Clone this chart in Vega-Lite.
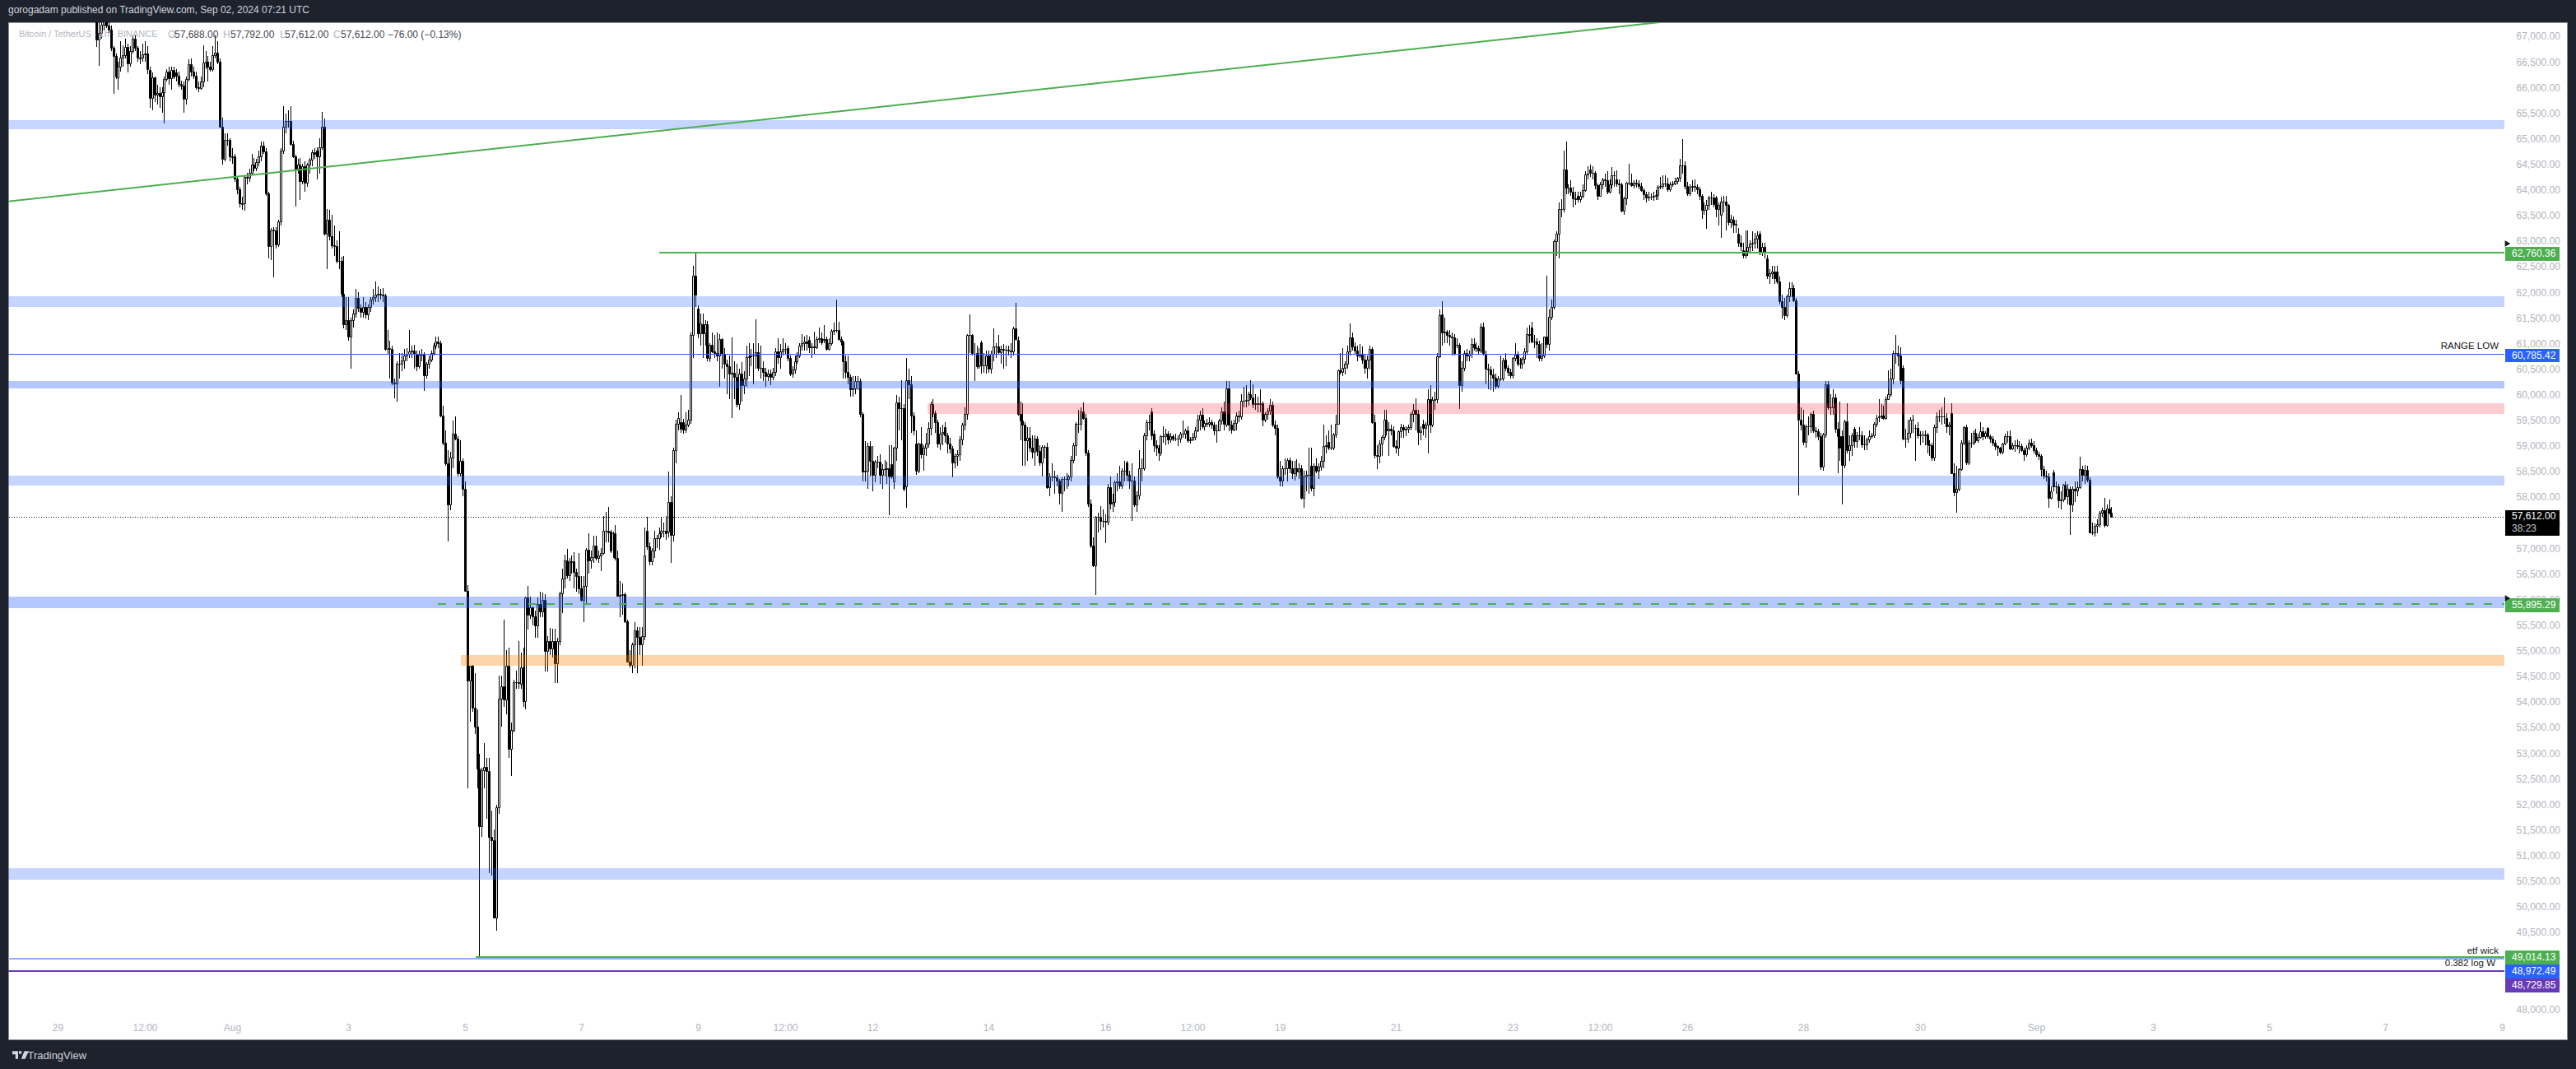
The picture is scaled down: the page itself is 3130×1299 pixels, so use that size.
{"$schema":"https://vega.github.io/schema/vega-lite/v6.json","autosize":"none","padding":{"left":10,"top":27,"right":11,"bottom":36},"width":3109,"height":1236,"background":"#1e222d","config":{"font":"Liberation Sans","view":{"fill":"#ffffff","stroke":"#8a8d96","strokeWidth":1}},"title":{"text":"gorogadam published on TradingView.com, Sep 02, 2024 07:21 UTC","anchor":"start","frame":"group","color":"#d1d4dc","fontSize":12,"fontWeight":"normal","offset":8},"datasets":{"candles":[
{"t":"2024-07-29T16:00Z","o":67500,"h":67800,"l":66780,"c":66920},{"t":"2024-07-29T17:00Z","o":66920,"h":67300,"l":66420,"c":67050},{"t":"2024-07-29T18:00Z","o":67050,"h":67350,"l":66950,"c":67220},{"t":"2024-07-29T19:00Z","o":67220,"h":67500,"l":67100,"c":67280},{"t":"2024-07-29T20:00Z","o":67280,"h":67400,"l":67150,"c":67200},{"t":"2024-07-29T21:00Z","o":67200,"h":67350,"l":67050,"c":67120},{"t":"2024-07-29T22:00Z","o":67120,"h":67200,"l":66700,"c":66760},{"t":"2024-07-29T23:00Z","o":66760,"h":66800,"l":65860,"c":66600},
{"t":"2024-07-30T00:00Z","o":66600,"h":66650,"l":66150,"c":66200},{"t":"2024-07-30T01:00Z","o":66190,"h":66500,"l":65950,"c":66400},{"t":"2024-07-30T02:00Z","o":66400,"h":66900,"l":66300,"c":66580},{"t":"2024-07-30T03:00Z","o":66580,"h":66820,"l":66400,"c":66620},{"t":"2024-07-30T04:00Z","o":66620,"h":66950,"l":66550,"c":66790},{"t":"2024-07-30T05:00Z","o":66790,"h":66850,"l":66280,"c":66460},{"t":"2024-07-30T06:00Z","o":66460,"h":66800,"l":66400,"c":66700},{"t":"2024-07-30T07:00Z","o":66700,"h":67000,"l":66650,"c":66940},{"t":"2024-07-30T08:00Z","o":66940,"h":67000,"l":66700,"c":66760},{"t":"2024-07-30T09:00Z","o":66760,"h":66800,"l":66500,"c":66580},{"t":"2024-07-30T10:00Z","o":66580,"h":66700,"l":66450,"c":66560},{"t":"2024-07-30T11:00Z","o":66570,"h":66850,"l":66500,"c":66640},{"t":"2024-07-30T12:00Z","o":66640,"h":66900,"l":66500,"c":66650},{"t":"2024-07-30T13:00Z","o":66650,"h":66800,"l":66250,"c":66350},{"t":"2024-07-30T14:00Z","o":66330,"h":66400,"l":65600,"c":65790},{"t":"2024-07-30T15:00Z","o":65790,"h":66280,"l":65550,"c":66190},{"t":"2024-07-30T16:00Z","o":66190,"h":66200,"l":65700,"c":65850},{"t":"2024-07-30T17:00Z","o":65850,"h":66050,"l":65650,"c":65880},{"t":"2024-07-30T18:00Z","o":65880,"h":66000,"l":65600,"c":65820},{"t":"2024-07-30T19:00Z","o":65820,"h":66000,"l":65500,"c":65900},{"t":"2024-07-30T20:00Z","o":65900,"h":66200,"l":65290,"c":66160},{"t":"2024-07-30T21:00Z","o":66160,"h":66350,"l":66100,"c":66300},{"t":"2024-07-30T22:00Z","o":66300,"h":66400,"l":66050,"c":66170},{"t":"2024-07-30T23:00Z","o":66170,"h":66400,"l":65950,"c":66330},
{"t":"2024-07-31T00:00Z","o":66330,"h":66400,"l":66150,"c":66200},{"t":"2024-07-31T01:00Z","o":66280,"h":66350,"l":66100,"c":66220},{"t":"2024-07-31T02:00Z","o":66220,"h":66300,"l":66000,"c":66060},{"t":"2024-07-31T03:00Z","o":66060,"h":66130,"l":65950,"c":66030},{"t":"2024-07-31T04:00Z","o":66030,"h":66100,"l":65500,"c":65770},{"t":"2024-07-31T05:00Z","o":65770,"h":66200,"l":65650,"c":66150},{"t":"2024-07-31T06:00Z","o":66150,"h":66540,"l":66100,"c":66450},{"t":"2024-07-31T07:00Z","o":66450,"h":66560,"l":66200,"c":66300},{"t":"2024-07-31T08:00Z","o":66300,"h":66400,"l":66150,"c":66220},{"t":"2024-07-31T09:00Z","o":66220,"h":66300,"l":65950,"c":66000},{"t":"2024-07-31T10:00Z","o":66000,"h":66100,"l":65900,"c":65980},{"t":"2024-07-31T11:00Z","o":65980,"h":66200,"l":65950,"c":66110},{"t":"2024-07-31T12:00Z","o":66110,"h":66810,"l":66000,"c":66480},{"t":"2024-07-31T13:00Z","o":66480,"h":66700,"l":66350,"c":66490},{"t":"2024-07-31T14:00Z","o":66490,"h":66600,"l":66100,"c":66400},{"t":"2024-07-31T15:00Z","o":66400,"h":66500,"l":66300,"c":66350},{"t":"2024-07-31T16:00Z","o":66350,"h":66800,"l":66300,"c":66620},{"t":"2024-07-31T17:00Z","o":66620,"h":67000,"l":66550,"c":66665},{"t":"2024-07-31T18:00Z","o":66665,"h":66900,"l":66450,"c":66500},{"t":"2024-07-31T19:00Z","o":66500,"h":66550,"l":65200,"c":65230},{"t":"2024-07-31T20:00Z","o":65230,"h":65400,"l":64480,"c":64600},{"t":"2024-07-31T21:00Z","o":64600,"h":65100,"l":64550,"c":64960},{"t":"2024-07-31T22:00Z","o":64960,"h":65100,"l":64850,"c":64970},{"t":"2024-07-31T23:00Z","o":64960,"h":65000,"l":64550,"c":64640},
{"t":"2024-08-01T00:00Z","o":64640,"h":64800,"l":64500,"c":64630},{"t":"2024-08-01T01:00Z","o":64640,"h":64700,"l":64150,"c":64210},{"t":"2024-08-01T02:00Z","o":64210,"h":64250,"l":63900,"c":64000},{"t":"2024-08-01T03:00Z","o":64000,"h":64050,"l":63650,"c":63730},{"t":"2024-08-01T04:00Z","o":63730,"h":63850,"l":63600,"c":63720},{"t":"2024-08-01T05:00Z","o":63730,"h":64280,"l":63580,"c":64250},{"t":"2024-08-01T06:00Z","o":64250,"h":64320,"l":64100,"c":64230},{"t":"2024-08-01T07:00Z","o":64230,"h":64400,"l":64150,"c":64330},{"t":"2024-08-01T08:00Z","o":64330,"h":64700,"l":64280,"c":64480},{"t":"2024-08-01T09:00Z","o":64480,"h":64620,"l":64350,"c":64420},{"t":"2024-08-01T10:00Z","o":64420,"h":64600,"l":64350,"c":64530},{"t":"2024-08-01T11:00Z","o":64530,"h":64750,"l":64450,"c":64640},{"t":"2024-08-01T12:00Z","o":64640,"h":64930,"l":64550,"c":64850},{"t":"2024-08-01T13:00Z","o":64850,"h":64930,"l":64700,"c":64740},{"t":"2024-08-01T14:00Z","o":64740,"h":64800,"l":63880,"c":63915},{"t":"2024-08-01T15:00Z","o":63915,"h":63950,"l":62650,"c":62900},{"t":"2024-08-01T16:00Z","o":62900,"h":63250,"l":62620,"c":63200},{"t":"2024-08-01T17:00Z","o":63200,"h":63260,"l":62280,"c":63220},{"t":"2024-08-01T18:00Z","o":63200,"h":63260,"l":62850,"c":62930},{"t":"2024-08-01T19:00Z","o":62930,"h":63400,"l":62880,"c":63370},{"t":"2024-08-01T20:00Z","o":63370,"h":64800,"l":63300,"c":64750},{"t":"2024-08-01T21:00Z","o":64750,"h":65630,"l":64700,"c":65230},{"t":"2024-08-01T22:00Z","o":65230,"h":65480,"l":65100,"c":65330},{"t":"2024-08-01T23:00Z","o":65330,"h":65550,"l":65200,"c":65330},
{"t":"2024-08-02T00:00Z","o":65330,"h":65630,"l":64850,"c":64880},{"t":"2024-08-02T01:00Z","o":64880,"h":64950,"l":64620,"c":64640},{"t":"2024-08-02T02:00Z","o":64640,"h":64680,"l":63660,"c":64400},{"t":"2024-08-02T03:00Z","o":64400,"h":64600,"l":64300,"c":64480},{"t":"2024-08-02T04:00Z","o":64480,"h":64620,"l":63800,"c":64170},{"t":"2024-08-02T05:00Z","o":64170,"h":64500,"l":64100,"c":64450},{"t":"2024-08-02T06:00Z","o":64450,"h":64550,"l":63950,"c":64130},{"t":"2024-08-02T07:00Z","o":64130,"h":64520,"l":64050,"c":64480},{"t":"2024-08-02T08:00Z","o":64480,"h":64620,"l":64300,"c":64580},{"t":"2024-08-02T09:00Z","o":64580,"h":64770,"l":64450,"c":64720},{"t":"2024-08-02T10:00Z","o":64720,"h":64800,"l":64600,"c":64700},{"t":"2024-08-02T11:00Z","o":64760,"h":64830,"l":64200,"c":64640},{"t":"2024-08-02T12:00Z","o":64640,"h":65000,"l":64300,"c":64830},{"t":"2024-08-02T13:00Z","o":64830,"h":65520,"l":64780,"c":65230},{"t":"2024-08-02T14:00Z","o":65230,"h":65380,"l":63100,"c":63140},{"t":"2024-08-02T15:00Z","o":63140,"h":63620,"l":62440,"c":63400},{"t":"2024-08-02T16:00Z","o":63400,"h":63600,"l":63000,"c":63080},{"t":"2024-08-02T17:00Z","o":63080,"h":63500,"l":62850,"c":62910},{"t":"2024-08-02T18:00Z","o":62910,"h":63300,"l":62700,"c":62900},{"t":"2024-08-02T19:00Z","o":62900,"h":63000,"l":62550,"c":62600},{"t":"2024-08-02T20:00Z","o":62600,"h":63180,"l":62450,"c":62600},{"t":"2024-08-02T21:00Z","o":62600,"h":62680,"l":61900,"c":61960},{"t":"2024-08-02T22:00Z","o":61960,"h":62700,"l":61290,"c":61370},{"t":"2024-08-02T23:00Z","o":61370,"h":61900,"l":61250,"c":61440},
{"t":"2024-08-03T00:00Z","o":61440,"h":61900,"l":61050,"c":61130},{"t":"2024-08-03T01:00Z","o":61130,"h":61500,"l":60500,"c":61450},{"t":"2024-08-03T02:00Z","o":61450,"h":61650,"l":61300,"c":61570},{"t":"2024-08-03T03:00Z","o":61570,"h":62050,"l":61500,"c":61880},{"t":"2024-08-03T04:00Z","o":61880,"h":62000,"l":61600,"c":61680},{"t":"2024-08-03T05:00Z","o":61680,"h":61750,"l":61500,"c":61600},{"t":"2024-08-03T06:00Z","o":61600,"h":61900,"l":61500,"c":61700},{"t":"2024-08-03T07:00Z","o":61700,"h":61800,"l":61480,"c":61560},{"t":"2024-08-03T08:00Z","o":61560,"h":61750,"l":61450,"c":61700},{"t":"2024-08-03T09:00Z","o":61700,"h":61900,"l":61600,"c":61850},{"t":"2024-08-03T10:00Z","o":61850,"h":62050,"l":61750,"c":61900},{"t":"2024-08-03T11:00Z","o":61900,"h":62200,"l":61800,"c":61950},{"t":"2024-08-03T12:00Z","o":61950,"h":62100,"l":61800,"c":61960},{"t":"2024-08-03T13:00Z","o":61960,"h":62050,"l":61850,"c":61950},{"t":"2024-08-03T14:00Z","o":61950,"h":62070,"l":61800,"c":61930},{"t":"2024-08-03T15:00Z","o":61930,"h":61960,"l":60850,"c":60880},{"t":"2024-08-03T16:00Z","o":60880,"h":61250,"l":60780,"c":60890},{"t":"2024-08-03T17:00Z","o":60890,"h":61050,"l":60300,"c":60900},{"t":"2024-08-03T18:00Z","o":60880,"h":60950,"l":60180,"c":60220},{"t":"2024-08-03T19:00Z","o":60220,"h":60300,"l":59920,"c":60210},{"t":"2024-08-03T20:00Z","o":60210,"h":60650,"l":59850,"c":60600},{"t":"2024-08-03T21:00Z","o":60600,"h":60800,"l":60300,"c":60590},{"t":"2024-08-03T22:00Z","o":60590,"h":60800,"l":60450,"c":60660},{"t":"2024-08-03T23:00Z","o":60660,"h":60880,"l":60500,"c":60750},
{"t":"2024-08-04T00:00Z","o":60750,"h":60900,"l":60650,"c":60780},{"t":"2024-08-04T01:00Z","o":60780,"h":61250,"l":60700,"c":60830},{"t":"2024-08-04T02:00Z","o":60830,"h":60950,"l":60700,"c":60860},{"t":"2024-08-04T03:00Z","o":60860,"h":60960,"l":60500,"c":60780},{"t":"2024-08-04T04:00Z","o":60780,"h":60850,"l":60450,"c":60540},{"t":"2024-08-04T05:00Z","o":60540,"h":60850,"l":60500,"c":60770},{"t":"2024-08-04T06:00Z","o":60770,"h":60880,"l":60650,"c":60780},{"t":"2024-08-04T07:00Z","o":60780,"h":60820,"l":60060,"c":60370},{"t":"2024-08-04T08:00Z","o":60370,"h":60620,"l":60300,"c":60590},{"t":"2024-08-04T09:00Z","o":60590,"h":60750,"l":60500,"c":60680},{"t":"2024-08-04T10:00Z","o":60680,"h":60850,"l":60620,"c":60800},{"t":"2024-08-04T11:00Z","o":60800,"h":61000,"l":60750,"c":60950},{"t":"2024-08-04T12:00Z","o":60950,"h":61130,"l":60880,"c":61030},{"t":"2024-08-04T13:00Z","o":61030,"h":61130,"l":60900,"c":61000},{"t":"2024-08-04T14:00Z","o":61000,"h":61050,"l":59550,"c":59575},{"t":"2024-08-04T15:00Z","o":59575,"h":59780,"l":59000,"c":59060},{"t":"2024-08-04T16:00Z","o":59060,"h":59300,"l":58600,"c":58650},{"t":"2024-08-04T17:00Z","o":58650,"h":58900,"l":57130,"c":57850},{"t":"2024-08-04T18:00Z","o":57850,"h":58880,"l":57730,"c":58760},{"t":"2024-08-04T19:00Z","o":58760,"h":59480,"l":58550,"c":59230},{"t":"2024-08-04T20:00Z","o":59230,"h":59570,"l":59100,"c":59130},{"t":"2024-08-04T21:00Z","o":59130,"h":59180,"l":58400,"c":58450},{"t":"2024-08-04T22:00Z","o":58450,"h":59100,"l":58400,"c":58700},{"t":"2024-08-04T23:00Z","o":58700,"h":58750,"l":58000,"c":58160},
{"t":"2024-08-05T00:00Z","o":58160,"h":58290,"l":56140,"c":56160},{"t":"2024-08-05T01:00Z","o":56160,"h":56270,"l":52300,"c":54410},{"t":"2024-08-05T02:00Z","o":54410,"h":54700,"l":53600,"c":54700},{"t":"2024-08-05T03:00Z","o":54700,"h":54720,"l":53800,"c":53870},{"t":"2024-08-05T04:00Z","o":53870,"h":54560,"l":53370,"c":53510},{"t":"2024-08-05T05:00Z","o":53510,"h":53850,"l":52300,"c":52690},{"t":"2024-08-05T06:00Z","o":52690,"h":52980,"l":49000,"c":51560},{"t":"2024-08-05T07:00Z","o":51560,"h":52700,"l":51350,"c":52660},{"t":"2024-08-05T08:00Z","o":52660,"h":53190,"l":52300,"c":52720},{"t":"2024-08-05T09:00Z","o":52720,"h":52900,"l":51700,"c":52640},{"t":"2024-08-05T10:00Z","o":52640,"h":52900,"l":50650,"c":51360},{"t":"2024-08-05T11:00Z","o":51360,"h":51860,"l":50600,"c":51290},{"t":"2024-08-05T12:00Z","o":51290,"h":51500,"l":49760,"c":49780},{"t":"2024-08-05T13:00Z","o":49780,"h":51980,"l":49525,"c":51925},{"t":"2024-08-05T14:00Z","o":51925,"h":54500,"l":51800,"c":54048},{"t":"2024-08-05T15:00Z","o":54048,"h":54500,"l":53500,"c":54300},{"t":"2024-08-05T16:00Z","o":54300,"h":55595,"l":53900,"c":54030},{"t":"2024-08-05T17:00Z","o":54030,"h":55000,"l":53750,"c":54690},{"t":"2024-08-05T18:00Z","o":54690,"h":55050,"l":52900,"c":53070},{"t":"2024-08-05T19:00Z","o":53070,"h":53580,"l":52540,"c":53450},{"t":"2024-08-05T20:00Z","o":53450,"h":54420,"l":53400,"c":54380},{"t":"2024-08-05T21:00Z","o":54380,"h":54600,"l":54250,"c":54380},{"t":"2024-08-05T22:00Z","o":54380,"h":55180,"l":54250,"c":54360},{"t":"2024-08-05T23:00Z","o":54350,"h":54950,"l":54250,"c":54670},
{"t":"2024-08-06T00:00Z","o":54670,"h":55050,"l":53900,"c":54000},{"t":"2024-08-06T01:00Z","o":54000,"h":56050,"l":53850,"c":56030},{"t":"2024-08-06T02:00Z","o":56030,"h":56250,"l":55400,"c":55690},{"t":"2024-08-06T03:00Z","o":55690,"h":56050,"l":55620,"c":55830},{"t":"2024-08-06T04:00Z","o":55830,"h":55850,"l":55480,"c":55660},{"t":"2024-08-06T05:00Z","o":55660,"h":55780,"l":55250,"c":55480},{"t":"2024-08-06T06:00Z","o":55480,"h":56030,"l":55250,"c":55900},{"t":"2024-08-06T07:00Z","o":55900,"h":56150,"l":55650,"c":55760},{"t":"2024-08-06T08:00Z","o":55760,"h":56120,"l":55650,"c":55990},{"t":"2024-08-06T09:00Z","o":55990,"h":56100,"l":54580,"c":54980},{"t":"2024-08-06T10:00Z","o":54980,"h":55280,"l":54580,"c":55180},{"t":"2024-08-06T11:00Z","o":55180,"h":55430,"l":54900,"c":55030},{"t":"2024-08-06T12:00Z","o":55030,"h":55420,"l":54850,"c":55180},{"t":"2024-08-06T13:00Z","o":55180,"h":55420,"l":54360,"c":54740},{"t":"2024-08-06T14:00Z","o":54740,"h":55250,"l":54360,"c":55180},{"t":"2024-08-06T15:00Z","o":55180,"h":56150,"l":55100,"c":56115},{"t":"2024-08-06T16:00Z","o":56115,"h":56600,"l":55730,"c":56400},{"t":"2024-08-06T17:00Z","o":56400,"h":56860,"l":56200,"c":56760},{"t":"2024-08-06T18:00Z","o":56760,"h":56980,"l":56400,"c":56470},{"t":"2024-08-06T19:00Z","o":56470,"h":56800,"l":56350,"c":56720},{"t":"2024-08-06T20:00Z","o":56720,"h":56850,"l":56500,"c":56730},{"t":"2024-08-06T21:00Z","o":56740,"h":56920,"l":56200,"c":56530},{"t":"2024-08-06T22:00Z","o":56530,"h":56600,"l":56150,"c":56450},{"t":"2024-08-06T23:00Z","o":56450,"h":56900,"l":56100,"c":56200},
{"t":"2024-08-07T00:00Z","o":56200,"h":56450,"l":55950,"c":55990},{"t":"2024-08-07T01:00Z","o":55990,"h":56450,"l":55550,"c":56250},{"t":"2024-08-07T02:00Z","o":56250,"h":57000,"l":55900,"c":56960},{"t":"2024-08-07T03:00Z","o":56960,"h":57280,"l":56500,"c":56750},{"t":"2024-08-07T04:00Z","o":56750,"h":56950,"l":56600,"c":56820},{"t":"2024-08-07T05:00Z","o":56820,"h":57230,"l":56700,"c":57050},{"t":"2024-08-07T06:00Z","o":57050,"h":57230,"l":56750,"c":56800},{"t":"2024-08-07T07:00Z","o":56800,"h":56950,"l":56700,"c":56850},{"t":"2024-08-07T08:00Z","o":56850,"h":57000,"l":56550,"c":56900},{"t":"2024-08-07T09:00Z","o":56900,"h":57620,"l":56860,"c":57330},{"t":"2024-08-07T10:00Z","o":57330,"h":57700,"l":57100,"c":57330},{"t":"2024-08-07T11:00Z","o":57330,"h":57800,"l":57100,"c":57300},{"t":"2024-08-07T12:00Z","o":57310,"h":57350,"l":56900,"c":56940},{"t":"2024-08-07T13:00Z","o":57290,"h":57320,"l":56800,"c":57290},{"t":"2024-08-07T14:00Z","o":57280,"h":57450,"l":56750,"c":56810},{"t":"2024-08-07T15:00Z","o":56810,"h":56950,"l":56050,"c":56070},{"t":"2024-08-07T16:00Z","o":56070,"h":56350,"l":55650,"c":56080},{"t":"2024-08-07T17:00Z","o":56080,"h":56300,"l":55700,"c":56090},{"t":"2024-08-07T18:00Z","o":56090,"h":56120,"l":55540,"c":55560},{"t":"2024-08-07T19:00Z","o":55560,"h":55600,"l":54760,"c":54780},{"t":"2024-08-07T20:00Z","o":54780,"h":55000,"l":54660,"c":54720},{"t":"2024-08-07T21:00Z","o":54720,"h":55150,"l":54560,"c":55120},{"t":"2024-08-07T22:00Z","o":55120,"h":55550,"l":54650,"c":55390},{"t":"2024-08-07T23:00Z","o":55390,"h":55450,"l":54560,"c":55260},
{"t":"2024-08-08T00:00Z","o":55260,"h":55450,"l":54900,"c":55110},{"t":"2024-08-08T01:00Z","o":55110,"h":55450,"l":54700,"c":55280},{"t":"2024-08-08T02:00Z","o":55280,"h":57390,"l":55200,"c":56850},{"t":"2024-08-08T03:00Z","o":57340,"h":57600,"l":56960,"c":57030},{"t":"2024-08-08T04:00Z","o":57030,"h":57100,"l":56660,"c":56740},{"t":"2024-08-08T05:00Z","o":56740,"h":57000,"l":56650,"c":56950},{"t":"2024-08-08T06:00Z","o":56950,"h":57330,"l":56800,"c":57180},{"t":"2024-08-08T07:00Z","o":57180,"h":57250,"l":57000,"c":57180},{"t":"2024-08-08T08:00Z","o":57180,"h":57400,"l":56960,"c":57280},{"t":"2024-08-08T09:00Z","o":57280,"h":57600,"l":57200,"c":57330},{"t":"2024-08-08T10:00Z","o":57330,"h":57500,"l":57200,"c":57340},{"t":"2024-08-08T11:00Z","o":57340,"h":57620,"l":57150,"c":57290},{"t":"2024-08-08T12:00Z","o":57310,"h":58485,"l":57200,"c":57895},{"t":"2024-08-08T13:00Z","o":57895,"h":58000,"l":56700,"c":57250},{"t":"2024-08-08T14:00Z","o":57250,"h":58960,"l":57120,"c":58900},{"t":"2024-08-08T15:00Z","o":58900,"h":59500,"l":58650,"c":59420},{"t":"2024-08-08T16:00Z","o":59420,"h":59650,"l":59300,"c":59540},{"t":"2024-08-08T17:00Z","o":59450,"h":59980,"l":59250,"c":59330},{"t":"2024-08-08T18:00Z","o":59450,"h":59520,"l":59230,"c":59315},{"t":"2024-08-08T19:00Z","o":59315,"h":59650,"l":59250,"c":59400},{"t":"2024-08-08T20:00Z","o":59400,"h":59700,"l":59360,"c":59500},{"t":"2024-08-08T21:00Z","o":59500,"h":61200,"l":59420,"c":61160},{"t":"2024-08-08T22:00Z","o":61160,"h":62500,"l":60700,"c":62315},{"t":"2024-08-08T23:00Z","o":62315,"h":62770,"l":61700,"c":61950},
{"t":"2024-08-09T00:00Z","o":61670,"h":61730,"l":61100,"c":61190},{"t":"2024-08-09T01:00Z","o":61190,"h":61580,"l":60950,"c":61380},{"t":"2024-08-09T02:00Z","o":61370,"h":61570,"l":60700,"c":61190},{"t":"2024-08-09T03:00Z","o":61190,"h":61450,"l":60950,"c":61360},{"t":"2024-08-09T04:00Z","o":61360,"h":61430,"l":60640,"c":60710},{"t":"2024-08-09T05:00Z","o":60710,"h":61000,"l":60620,"c":60960},{"t":"2024-08-09T06:00Z","o":60960,"h":61200,"l":60800,"c":60840},{"t":"2024-08-09T07:00Z","o":60840,"h":61150,"l":60700,"c":60810},{"t":"2024-08-09T08:00Z","o":60810,"h":61200,"l":60650,"c":60760},{"t":"2024-08-09T09:00Z","o":60760,"h":61170,"l":60150,"c":61070},{"t":"2024-08-09T10:00Z","o":61070,"h":61100,"l":60500,"c":60780},{"t":"2024-08-09T11:00Z","o":60780,"h":60900,"l":60300,"c":60590},{"t":"2024-08-09T12:00Z","o":60590,"h":60680,"l":60000,"c":60540},{"t":"2024-08-09T13:00Z","o":60540,"h":60750,"l":59900,"c":60410},{"t":"2024-08-09T14:00Z","o":60410,"h":61110,"l":59530,"c":60420},{"t":"2024-08-09T15:00Z","o":60420,"h":60650,"l":59900,"c":60330},{"t":"2024-08-09T16:00Z","o":60330,"h":60600,"l":59750,"c":59800},{"t":"2024-08-09T17:00Z","o":59800,"h":60500,"l":59700,"c":60410},{"t":"2024-08-09T18:00Z","o":60410,"h":60620,"l":59850,"c":60170},{"t":"2024-08-09T19:00Z","o":60170,"h":60450,"l":60000,"c":60300},{"t":"2024-08-09T20:00Z","o":60300,"h":60950,"l":60150,"c":60730},{"t":"2024-08-09T21:00Z","o":60730,"h":61000,"l":60350,"c":60740},{"t":"2024-08-09T22:00Z","o":60740,"h":60880,"l":60550,"c":60750},{"t":"2024-08-09T23:00Z","o":60750,"h":61000,"l":60200,"c":60760},
{"t":"2024-08-10T00:00Z","o":60760,"h":61470,"l":60500,"c":60820},{"t":"2024-08-10T01:00Z","o":60820,"h":61000,"l":60450,"c":60520},{"t":"2024-08-10T02:00Z","o":60520,"h":60950,"l":60300,"c":60510},{"t":"2024-08-10T03:00Z","o":60510,"h":60650,"l":60250,"c":60440},{"t":"2024-08-10T04:00Z","o":60440,"h":60520,"l":60150,"c":60360},{"t":"2024-08-10T05:00Z","o":60360,"h":60480,"l":60250,"c":60400},{"t":"2024-08-10T06:00Z","o":60400,"h":60480,"l":60180,"c":60330},{"t":"2024-08-10T07:00Z","o":60330,"h":60520,"l":60280,"c":60440},{"t":"2024-08-10T08:00Z","o":60440,"h":60900,"l":60350,"c":60840},{"t":"2024-08-10T09:00Z","o":60840,"h":61100,"l":60600,"c":60720},{"t":"2024-08-10T10:00Z","o":60720,"h":60980,"l":60500,"c":60830},{"t":"2024-08-10T11:00Z","o":60830,"h":61100,"l":60750,"c":60890},{"t":"2024-08-10T12:00Z","o":60890,"h":61000,"l":60780,"c":60880},{"t":"2024-08-10T13:00Z","o":60900,"h":60950,"l":60640,"c":60710},{"t":"2024-08-10T14:00Z","o":60710,"h":60750,"l":60350,"c":60410},{"t":"2024-08-10T15:00Z","o":60410,"h":60550,"l":60320,"c":60490},{"t":"2024-08-10T16:00Z","o":60490,"h":60750,"l":60400,"c":60650},{"t":"2024-08-10T17:00Z","o":60650,"h":60820,"l":60600,"c":60760},{"t":"2024-08-10T18:00Z","o":60760,"h":61000,"l":60700,"c":60950},{"t":"2024-08-10T19:00Z","o":60950,"h":61180,"l":60850,"c":61000},{"t":"2024-08-10T20:00Z","o":61000,"h":61120,"l":60850,"c":61030},{"t":"2024-08-10T21:00Z","o":61030,"h":61150,"l":60850,"c":60990},{"t":"2024-08-10T22:00Z","o":61060,"h":61130,"l":60800,"c":60910},{"t":"2024-08-10T23:00Z","o":60910,"h":61000,"l":60700,"c":60930},
{"t":"2024-08-11T00:00Z","o":60930,"h":61220,"l":60770,"c":60910},{"t":"2024-08-11T01:00Z","o":60910,"h":61130,"l":60880,"c":61080},{"t":"2024-08-11T02:00Z","o":61080,"h":61300,"l":61000,"c":61100},{"t":"2024-08-11T03:00Z","o":61100,"h":61200,"l":60960,"c":61010},{"t":"2024-08-11T04:00Z","o":61080,"h":61350,"l":61000,"c":61060},{"t":"2024-08-11T05:00Z","o":61080,"h":61120,"l":60860,"c":60880},{"t":"2024-08-11T06:00Z","o":60880,"h":61100,"l":60850,"c":60990},{"t":"2024-08-11T07:00Z","o":60990,"h":61270,"l":60950,"c":61240},{"t":"2024-08-11T08:00Z","o":61240,"h":61400,"l":61150,"c":61250},{"t":"2024-08-11T09:00Z","o":61250,"h":61850,"l":61200,"c":61260},{"t":"2024-08-11T10:00Z","o":61260,"h":61420,"l":61050,"c":61080},{"t":"2024-08-11T11:00Z","o":61080,"h":61120,"l":60950,"c":61030},{"t":"2024-08-11T12:00Z","o":61030,"h":61050,"l":60300,"c":60650},{"t":"2024-08-11T13:00Z","o":60650,"h":60750,"l":60300,"c":60440},{"t":"2024-08-11T14:00Z","o":60440,"h":60750,"l":60200,"c":60330},{"t":"2024-08-11T15:00Z","o":60330,"h":60380,"l":59950,"c":60100},{"t":"2024-08-11T16:00Z","o":60100,"h":60350,"l":59950,"c":60120},{"t":"2024-08-11T17:00Z","o":60120,"h":60350,"l":60000,"c":60250},{"t":"2024-08-11T18:00Z","o":60250,"h":60350,"l":60080,"c":60260},{"t":"2024-08-11T19:00Z","o":60260,"h":60300,"l":59550,"c":59610},{"t":"2024-08-11T20:00Z","o":59610,"h":59650,"l":58300,"c":58485},{"t":"2024-08-11T21:00Z","o":58485,"h":59080,"l":58300,"c":58500},{"t":"2024-08-11T22:00Z","o":58500,"h":59050,"l":58150,"c":58990},{"t":"2024-08-11T23:00Z","o":58990,"h":59080,"l":58400,"c":58700},
{"t":"2024-08-12T00:00Z","o":58700,"h":58980,"l":58110,"c":58430},{"t":"2024-08-12T01:00Z","o":58430,"h":58720,"l":58280,"c":58690},{"t":"2024-08-12T02:00Z","o":58690,"h":58800,"l":58550,"c":58680},{"t":"2024-08-12T03:00Z","o":58680,"h":58820,"l":58250,"c":58420},{"t":"2024-08-12T04:00Z","o":58420,"h":58640,"l":58150,"c":58540},{"t":"2024-08-12T05:00Z","o":58540,"h":58720,"l":58400,"c":58540},{"t":"2024-08-12T06:00Z","o":58530,"h":58680,"l":58250,"c":58550},{"t":"2024-08-12T07:00Z","o":58550,"h":59000,"l":57640,"c":58390},{"t":"2024-08-12T08:00Z","o":58640,"h":59000,"l":58350,"c":58390},{"t":"2024-08-12T09:00Z","o":58300,"h":58970,"l":58150,"c":58950},{"t":"2024-08-12T10:00Z","o":58950,"h":59980,"l":58700,"c":59840},{"t":"2024-08-12T11:00Z","o":59840,"h":59950,"l":59300,"c":59720},{"t":"2024-08-12T12:00Z","o":59720,"h":60280,"l":59100,"c":59720},{"t":"2024-08-12T13:00Z","o":59720,"h":59800,"l":58100,"c":58150},{"t":"2024-08-12T14:00Z","o":58200,"h":60710,"l":57790,"c":60280},{"t":"2024-08-12T15:00Z","o":60280,"h":60500,"l":59900,"c":60200},{"t":"2024-08-12T16:00Z","o":60200,"h":60350,"l":59250,"c":59580},{"t":"2024-08-12T17:00Z","o":59580,"h":59650,"l":59200,"c":59290},{"t":"2024-08-12T18:00Z","o":59030,"h":59300,"l":58420,"c":58510},{"t":"2024-08-12T19:00Z","o":58510,"h":59050,"l":58450,"c":59030},{"t":"2024-08-12T20:00Z","o":59030,"h":59350,"l":58750,"c":58820},{"t":"2024-08-12T21:00Z","o":58820,"h":59000,"l":58500,"c":58950},{"t":"2024-08-12T22:00Z","o":58950,"h":59250,"l":58800,"c":59030},{"t":"2024-08-12T23:00Z","o":59030,"h":59450,"l":58950,"c":59340},
{"t":"2024-08-13T00:00Z","o":59340,"h":59850,"l":59200,"c":59800},{"t":"2024-08-13T01:00Z","o":59800,"h":59900,"l":59550,"c":59630},{"t":"2024-08-13T02:00Z","o":59630,"h":59680,"l":59250,"c":59460},{"t":"2024-08-13T03:00Z","o":59460,"h":59500,"l":58950,"c":59030},{"t":"2024-08-13T04:00Z","o":59030,"h":59350,"l":58900,"c":59230},{"t":"2024-08-13T05:00Z","o":59230,"h":59400,"l":59000,"c":59260},{"t":"2024-08-13T06:00Z","o":59350,"h":59450,"l":59050,"c":59190},{"t":"2024-08-13T07:00Z","o":59190,"h":59250,"l":58850,"c":59040},{"t":"2024-08-13T08:00Z","o":59040,"h":59150,"l":58850,"c":58940},{"t":"2024-08-13T09:00Z","o":58940,"h":58980,"l":58378,"c":58660},{"t":"2024-08-13T10:00Z","o":58660,"h":58850,"l":58550,"c":58800},{"t":"2024-08-13T11:00Z","o":58800,"h":58900,"l":58600,"c":58820},{"t":"2024-08-13T12:00Z","o":58820,"h":59180,"l":58700,"c":59120},{"t":"2024-08-13T13:00Z","o":59120,"h":59430,"l":59000,"c":59410},{"t":"2024-08-13T14:00Z","o":59410,"h":59750,"l":59300,"c":59610},{"t":"2024-08-13T15:00Z","o":59610,"h":61180,"l":59500,"c":61150},{"t":"2024-08-13T16:00Z","o":61150,"h":61555,"l":60800,"c":61150},{"t":"2024-08-13T17:00Z","o":61150,"h":61180,"l":60750,"c":60790},{"t":"2024-08-13T18:00Z","o":60790,"h":61000,"l":60250,"c":60790},{"t":"2024-08-13T19:00Z","o":60800,"h":60950,"l":60500,"c":60550},{"t":"2024-08-13T20:00Z","o":60550,"h":60900,"l":60500,"c":60560},{"t":"2024-08-13T21:00Z","o":61010,"h":61050,"l":60400,"c":60570},{"t":"2024-08-13T22:00Z","o":60570,"h":60800,"l":60420,"c":60570},{"t":"2024-08-13T23:00Z","o":60570,"h":60850,"l":60400,"c":60760},
{"t":"2024-08-14T00:00Z","o":60760,"h":60850,"l":60420,"c":60500},{"t":"2024-08-14T01:00Z","o":60500,"h":60850,"l":60400,"c":60780},{"t":"2024-08-14T02:00Z","o":60780,"h":61280,"l":60650,"c":60940},{"t":"2024-08-14T03:00Z","o":60940,"h":61000,"l":60700,"c":60940},{"t":"2024-08-14T04:00Z","o":60940,"h":61150,"l":60780,"c":60820},{"t":"2024-08-14T05:00Z","o":60820,"h":60950,"l":60600,"c":60890},{"t":"2024-08-14T06:00Z","o":60890,"h":60980,"l":60500,"c":60870},{"t":"2024-08-14T07:00Z","o":60870,"h":60950,"l":60550,"c":60870},{"t":"2024-08-14T08:00Z","o":60870,"h":60950,"l":60750,"c":60860},{"t":"2024-08-14T09:00Z","o":60860,"h":61000,"l":60700,"c":60840},{"t":"2024-08-14T10:00Z","o":60840,"h":61320,"l":60750,"c":61290},{"t":"2024-08-14T11:00Z","o":61290,"h":61780,"l":61050,"c":61080},{"t":"2024-08-14T12:00Z","o":61060,"h":61120,"l":59580,"c":59610},{"t":"2024-08-14T13:00Z","o":59610,"h":59850,"l":59100,"c":59480},{"t":"2024-08-14T14:00Z","o":59480,"h":59820,"l":58600,"c":59410},{"t":"2024-08-14T15:00Z","o":59410,"h":59450,"l":58600,"c":59100},{"t":"2024-08-14T16:00Z","o":59100,"h":59350,"l":58700,"c":59150},{"t":"2024-08-14T17:00Z","o":59150,"h":59350,"l":58880,"c":58960},{"t":"2024-08-14T18:00Z","o":58960,"h":59200,"l":58750,"c":58870},{"t":"2024-08-14T19:00Z","o":58870,"h":59200,"l":58600,"c":59130},{"t":"2024-08-14T20:00Z","o":59130,"h":59180,"l":58800,"c":58890},{"t":"2024-08-14T21:00Z","o":58890,"h":59000,"l":58600,"c":58660},{"t":"2024-08-14T22:00Z","o":58660,"h":59000,"l":58400,"c":58970},{"t":"2024-08-14T23:00Z","o":58970,"h":59000,"l":58750,"c":58970},
{"t":"2024-08-15T00:00Z","o":58970,"h":59050,"l":58150,"c":58190},{"t":"2024-08-15T01:00Z","o":58190,"h":58450,"l":58000,"c":58400},{"t":"2024-08-15T02:00Z","o":58400,"h":58650,"l":58300,"c":58400},{"t":"2024-08-15T03:00Z","o":58400,"h":58500,"l":58050,"c":58380},{"t":"2024-08-15T04:00Z","o":58380,"h":58420,"l":58200,"c":58310},{"t":"2024-08-15T05:00Z","o":58310,"h":58350,"l":57850,"c":58070},{"t":"2024-08-15T06:00Z","o":58070,"h":58380,"l":57710,"c":58350},{"t":"2024-08-15T07:00Z","o":58350,"h":58400,"l":58100,"c":58350},{"t":"2024-08-15T08:00Z","o":58350,"h":58450,"l":58150,"c":58350},{"t":"2024-08-15T09:00Z","o":58350,"h":58430,"l":58200,"c":58400},{"t":"2024-08-15T10:00Z","o":58400,"h":58800,"l":58300,"c":58720},{"t":"2024-08-15T11:00Z","o":58720,"h":59050,"l":58650,"c":59000},{"t":"2024-08-15T12:00Z","o":59000,"h":59450,"l":58800,"c":59420},{"t":"2024-08-15T13:00Z","o":59420,"h":59700,"l":59250,"c":59420},{"t":"2024-08-15T14:00Z","o":59420,"h":59750,"l":59300,"c":59660},{"t":"2024-08-15T15:00Z","o":59670,"h":59835,"l":59500,"c":59530},{"t":"2024-08-15T16:00Z","o":59530,"h":59620,"l":58800,"c":58860},{"t":"2024-08-15T17:00Z","o":58860,"h":58900,"l":57800,"c":57870},{"t":"2024-08-15T18:00Z","o":57870,"h":57950,"l":57000,"c":57040},{"t":"2024-08-15T19:00Z","o":57040,"h":57200,"l":56620,"c":56650},{"t":"2024-08-15T20:00Z","o":56650,"h":57620,"l":56080,"c":57600},{"t":"2024-08-15T21:00Z","o":57600,"h":57680,"l":57300,"c":57600},{"t":"2024-08-15T22:00Z","o":57600,"h":57820,"l":57350,"c":57520},{"t":"2024-08-15T23:00Z","o":57520,"h":57750,"l":57400,"c":57520},
{"t":"2024-08-16T00:00Z","o":57520,"h":57650,"l":57090,"c":57510},{"t":"2024-08-16T01:00Z","o":57510,"h":58250,"l":57450,"c":58190},{"t":"2024-08-16T02:00Z","o":58190,"h":58400,"l":57750,"c":57870},{"t":"2024-08-16T03:00Z","o":57870,"h":58050,"l":57700,"c":57900},{"t":"2024-08-16T04:00Z","o":57900,"h":58320,"l":57800,"c":58280},{"t":"2024-08-16T05:00Z","o":58280,"h":58450,"l":58100,"c":58300},{"t":"2024-08-16T06:00Z","o":58300,"h":58600,"l":58150,"c":58220},{"t":"2024-08-16T07:00Z","o":58220,"h":58550,"l":58150,"c":58510},{"t":"2024-08-16T08:00Z","o":58510,"h":58700,"l":58300,"c":58510},{"t":"2024-08-16T09:00Z","o":58660,"h":58700,"l":58300,"c":58420},{"t":"2024-08-16T10:00Z","o":58420,"h":58500,"l":58150,"c":58320},{"t":"2024-08-16T11:00Z","o":58320,"h":58650,"l":57520,"c":58320},{"t":"2024-08-16T12:00Z","o":58320,"h":58400,"l":57800,"c":57850},{"t":"2024-08-16T13:00Z","o":57850,"h":58100,"l":57700,"c":58030},{"t":"2024-08-16T14:00Z","o":58030,"h":58900,"l":57950,"c":58550},{"t":"2024-08-16T15:00Z","o":58550,"h":58750,"l":58300,"c":58550},{"t":"2024-08-16T16:00Z","o":58550,"h":59250,"l":58500,"c":59200},{"t":"2024-08-16T17:00Z","o":59200,"h":59500,"l":59100,"c":59450},{"t":"2024-08-16T18:00Z","o":59450,"h":59600,"l":59300,"c":59450},{"t":"2024-08-16T19:00Z","o":59670,"h":59720,"l":59100,"c":59200},{"t":"2024-08-16T20:00Z","o":59235,"h":59300,"l":58880,"c":59010},{"t":"2024-08-16T21:00Z","o":59010,"h":59100,"l":58800,"c":58950},{"t":"2024-08-16T22:00Z","o":58950,"h":59000,"l":58700,"c":58860},{"t":"2024-08-16T23:00Z","o":58860,"h":59200,"l":58800,"c":59180},
{"t":"2024-08-17T00:00Z","o":59180,"h":59370,"l":59050,"c":59180},{"t":"2024-08-17T01:00Z","o":59180,"h":59320,"l":59000,"c":59230},{"t":"2024-08-17T02:00Z","o":59230,"h":59280,"l":59020,"c":59120},{"t":"2024-08-17T03:00Z","o":59120,"h":59250,"l":59050,"c":59180},{"t":"2024-08-17T04:00Z","o":59180,"h":59220,"l":59080,"c":59140},{"t":"2024-08-17T05:00Z","o":59140,"h":59230,"l":59080,"c":59140},{"t":"2024-08-17T06:00Z","o":59140,"h":59200,"l":58980,"c":59140},{"t":"2024-08-17T07:00Z","o":59140,"h":59260,"l":59050,"c":59230},{"t":"2024-08-17T08:00Z","o":59230,"h":59480,"l":59150,"c":59230},{"t":"2024-08-17T09:00Z","o":59230,"h":59320,"l":59130,"c":59290},{"t":"2024-08-17T10:00Z","o":59290,"h":59380,"l":59060,"c":59100},{"t":"2024-08-17T11:00Z","o":59100,"h":59170,"l":59040,"c":59120},{"t":"2024-08-17T12:00Z","o":59120,"h":59250,"l":59080,"c":59160},{"t":"2024-08-17T13:00Z","o":59160,"h":59350,"l":59100,"c":59290},{"t":"2024-08-17T14:00Z","o":59290,"h":59600,"l":59260,"c":59510},{"t":"2024-08-17T15:00Z","o":59510,"h":59680,"l":59300,"c":59600},{"t":"2024-08-17T16:00Z","o":59600,"h":59720,"l":59330,"c":59370},{"t":"2024-08-17T17:00Z","o":59370,"h":59480,"l":59300,"c":59440},{"t":"2024-08-17T18:00Z","o":59440,"h":59520,"l":59350,"c":59420},{"t":"2024-08-17T19:00Z","o":59420,"h":59550,"l":59350,"c":59460},{"t":"2024-08-17T20:00Z","o":59460,"h":59500,"l":59330,"c":59400},{"t":"2024-08-17T21:00Z","o":59400,"h":59450,"l":59200,"c":59300},{"t":"2024-08-17T22:00Z","o":59300,"h":59400,"l":59050,"c":59300},{"t":"2024-08-17T23:00Z","o":59300,"h":59520,"l":59280,"c":59480},
{"t":"2024-08-18T00:00Z","o":59480,"h":59750,"l":59400,"c":59660},{"t":"2024-08-18T01:00Z","o":59660,"h":59850,"l":59300,"c":59420},{"t":"2024-08-18T02:00Z","o":59400,"h":60250,"l":59350,"c":60110},{"t":"2024-08-18T03:00Z","o":60110,"h":60250,"l":59280,"c":59410},{"t":"2024-08-18T04:00Z","o":59410,"h":59480,"l":59230,"c":59310},{"t":"2024-08-18T05:00Z","o":59310,"h":59500,"l":59280,"c":59430},{"t":"2024-08-18T06:00Z","o":59430,"h":59650,"l":59300,"c":59580},{"t":"2024-08-18T07:00Z","o":59580,"h":59680,"l":59450,"c":59560},{"t":"2024-08-18T08:00Z","o":59560,"h":60000,"l":59500,"c":59870},{"t":"2024-08-18T09:00Z","o":59870,"h":60150,"l":59750,"c":59870},{"t":"2024-08-18T10:00Z","o":59870,"h":60180,"l":59750,"c":59880},{"t":"2024-08-18T11:00Z","o":59880,"h":60050,"l":59780,"c":60000},{"t":"2024-08-18T12:00Z","o":60000,"h":60270,"l":59880,"c":59940},{"t":"2024-08-18T13:00Z","o":59940,"h":60200,"l":59720,"c":59810},{"t":"2024-08-18T14:00Z","o":59810,"h":60000,"l":59700,"c":59830},{"t":"2024-08-18T15:00Z","o":59830,"h":59950,"l":59650,"c":59800},{"t":"2024-08-18T16:00Z","o":59800,"h":60090,"l":59650,"c":59820},{"t":"2024-08-18T17:00Z","o":59820,"h":59850,"l":59380,"c":59510},{"t":"2024-08-18T18:00Z","o":59510,"h":59650,"l":59450,"c":59610},{"t":"2024-08-18T19:00Z","o":59610,"h":59720,"l":59500,"c":59680},{"t":"2024-08-18T20:00Z","o":59680,"h":59900,"l":59600,"c":59790},{"t":"2024-08-18T21:00Z","o":59790,"h":59850,"l":59350,"c":59410},{"t":"2024-08-18T22:00Z","o":59410,"h":59480,"l":59200,"c":59340},{"t":"2024-08-18T23:00Z","o":59340,"h":59400,"l":58350,"c":58400},
{"t":"2024-08-19T00:00Z","o":58400,"h":58700,"l":58200,"c":58320},{"t":"2024-08-19T01:00Z","o":58320,"h":58600,"l":58200,"c":58550},{"t":"2024-08-19T02:00Z","o":58550,"h":58750,"l":58430,"c":58550},{"t":"2024-08-19T03:00Z","o":58550,"h":58750,"l":58300,"c":58720},{"t":"2024-08-19T04:00Z","o":58720,"h":58770,"l":58450,"c":58560},{"t":"2024-08-19T05:00Z","o":58560,"h":58700,"l":58350,"c":58450},{"t":"2024-08-19T06:00Z","o":58450,"h":58700,"l":58320,"c":58550},{"t":"2024-08-19T07:00Z","o":58550,"h":58730,"l":58400,"c":58490},{"t":"2024-08-19T08:00Z","o":58490,"h":58650,"l":58350,"c":58560},{"t":"2024-08-19T09:00Z","o":58560,"h":58620,"l":57950,"c":57980},{"t":"2024-08-19T10:00Z","o":57980,"h":58500,"l":57790,"c":58390},{"t":"2024-08-19T11:00Z","o":58390,"h":58500,"l":58100,"c":58420},{"t":"2024-08-19T12:00Z","o":58420,"h":58950,"l":58050,"c":58430},{"t":"2024-08-19T13:00Z","o":58600,"h":58950,"l":58100,"c":58170},{"t":"2024-08-19T14:00Z","o":58170,"h":58650,"l":58000,"c":58600},{"t":"2024-08-19T15:00Z","o":58600,"h":58750,"l":58450,"c":58510},{"t":"2024-08-19T16:00Z","o":58510,"h":58650,"l":58350,"c":58590},{"t":"2024-08-19T17:00Z","o":58590,"h":58800,"l":58500,"c":58700},{"t":"2024-08-19T18:00Z","o":58700,"h":59400,"l":58550,"c":58990},{"t":"2024-08-19T19:00Z","o":58990,"h":59200,"l":58850,"c":59000},{"t":"2024-08-19T20:00Z","o":59070,"h":59300,"l":58900,"c":58950},{"t":"2024-08-19T21:00Z","o":58950,"h":59400,"l":58900,"c":58950},{"t":"2024-08-19T22:00Z","o":58950,"h":59250,"l":58900,"c":59220},{"t":"2024-08-19T23:00Z","o":59220,"h":59600,"l":59150,"c":59420},
{"t":"2024-08-20T00:00Z","o":59420,"h":60480,"l":59400,"c":60460},{"t":"2024-08-20T01:00Z","o":60460,"h":60800,"l":60380,"c":60430},{"t":"2024-08-20T02:00Z","o":60430,"h":60900,"l":60350,"c":60510},{"t":"2024-08-20T03:00Z","o":60510,"h":60650,"l":60380,"c":60600},{"t":"2024-08-20T04:00Z","o":60600,"h":60950,"l":60500,"c":60840},{"t":"2024-08-20T05:00Z","o":60840,"h":61380,"l":60750,"c":61110},{"t":"2024-08-20T06:00Z","o":61110,"h":61200,"l":60850,"c":60930},{"t":"2024-08-20T07:00Z","o":60930,"h":61020,"l":60780,"c":60850},{"t":"2024-08-20T08:00Z","o":60850,"h":60950,"l":60650,"c":60760},{"t":"2024-08-20T09:00Z","o":60760,"h":60980,"l":60700,"c":60770},{"t":"2024-08-20T10:00Z","o":60770,"h":60930,"l":60600,"c":60680},{"t":"2024-08-20T11:00Z","o":60680,"h":60780,"l":60400,"c":60510},{"t":"2024-08-20T12:00Z","o":60510,"h":60750,"l":60300,"c":60670},{"t":"2024-08-20T13:00Z","o":60670,"h":60950,"l":60480,"c":60880},{"t":"2024-08-20T14:00Z","o":60880,"h":60920,"l":59420,"c":59450},{"t":"2024-08-20T15:00Z","o":59450,"h":59600,"l":58750,"c":58810},{"t":"2024-08-20T16:00Z","o":58810,"h":59000,"l":58540,"c":58800},{"t":"2024-08-20T17:00Z","o":58800,"h":59100,"l":58650,"c":59040},{"t":"2024-08-20T18:00Z","o":59040,"h":59200,"l":58800,"c":59170},{"t":"2024-08-20T19:00Z","o":59170,"h":59700,"l":59100,"c":59500},{"t":"2024-08-20T20:00Z","o":59500,"h":59700,"l":59200,"c":59300},{"t":"2024-08-20T21:00Z","o":59300,"h":59450,"l":58790,"c":59320},{"t":"2024-08-20T22:00Z","o":59320,"h":59400,"l":59200,"c":59290},{"t":"2024-08-20T23:00Z","o":59290,"h":59380,"l":58950,"c":58990},
{"t":"2024-08-21T00:00Z","o":58990,"h":59100,"l":58850,"c":58960},{"t":"2024-08-21T01:00Z","o":58960,"h":59300,"l":58800,"c":59280},{"t":"2024-08-21T02:00Z","o":59280,"h":59420,"l":59150,"c":59350},{"t":"2024-08-21T03:00Z","o":59350,"h":59400,"l":59150,"c":59310},{"t":"2024-08-21T04:00Z","o":59310,"h":59380,"l":59180,"c":59320},{"t":"2024-08-21T05:00Z","o":59320,"h":59400,"l":59250,"c":59350},{"t":"2024-08-21T06:00Z","o":59350,"h":59650,"l":59300,"c":59610},{"t":"2024-08-21T07:00Z","o":59610,"h":59800,"l":59450,"c":59690},{"t":"2024-08-21T08:00Z","o":59690,"h":59920,"l":59300,"c":59610},{"t":"2024-08-21T09:00Z","o":59610,"h":59700,"l":59000,"c":59260},{"t":"2024-08-21T10:00Z","o":59260,"h":59380,"l":59100,"c":59300},{"t":"2024-08-21T11:00Z","o":59420,"h":59500,"l":59200,"c":59340},{"t":"2024-08-21T12:00Z","o":59340,"h":59450,"l":59150,"c":59400},{"t":"2024-08-21T13:00Z","o":59400,"h":60090,"l":58850,"c":59910},{"t":"2024-08-21T14:00Z","o":59910,"h":60170,"l":59250,"c":59400},{"t":"2024-08-21T15:00Z","o":59400,"h":59950,"l":59350,"c":59880},{"t":"2024-08-21T16:00Z","o":59880,"h":60050,"l":59700,"c":59900},{"t":"2024-08-21T17:00Z","o":59900,"h":60800,"l":59830,"c":60740},{"t":"2024-08-21T18:00Z","o":60740,"h":61650,"l":60700,"c":61550},{"t":"2024-08-21T19:00Z","o":61560,"h":61817,"l":60950,"c":61210},{"t":"2024-08-21T20:00Z","o":61210,"h":61500,"l":61000,"c":61220},{"t":"2024-08-21T21:00Z","o":61220,"h":61250,"l":61000,"c":61160},{"t":"2024-08-21T22:00Z","o":61160,"h":61250,"l":60950,"c":61130},{"t":"2024-08-21T23:00Z","o":61130,"h":61200,"l":60750,"c":61110},
{"t":"2024-08-22T00:00Z","o":61110,"h":61170,"l":60750,"c":60790},{"t":"2024-08-22T01:00Z","o":60960,"h":61100,"l":60900,"c":60960},{"t":"2024-08-22T02:00Z","o":60960,"h":61000,"l":59717,"c":60170},{"t":"2024-08-22T03:00Z","o":60170,"h":60650,"l":60050,"c":60520},{"t":"2024-08-22T04:00Z","o":60520,"h":60850,"l":60450,"c":60810},{"t":"2024-08-22T05:00Z","o":60810,"h":60880,"l":60650,"c":60760},{"t":"2024-08-22T06:00Z","o":60760,"h":60850,"l":60650,"c":60780},{"t":"2024-08-22T07:00Z","o":60780,"h":61100,"l":60700,"c":60980},{"t":"2024-08-22T08:00Z","o":60980,"h":61100,"l":60850,"c":60910},{"t":"2024-08-22T09:00Z","o":60910,"h":61020,"l":60820,"c":60900},{"t":"2024-08-22T10:00Z","o":60900,"h":60950,"l":60780,"c":60860},{"t":"2024-08-22T11:00Z","o":60860,"h":61380,"l":60800,"c":61320},{"t":"2024-08-22T12:00Z","o":61320,"h":61400,"l":60750,"c":60790},{"t":"2024-08-22T13:00Z","o":60790,"h":60850,"l":60200,"c":60500},{"t":"2024-08-22T14:00Z","o":60500,"h":60600,"l":60100,"c":60490},{"t":"2024-08-22T15:00Z","o":60490,"h":60550,"l":60080,"c":60390},{"t":"2024-08-22T16:00Z","o":60390,"h":60500,"l":60050,"c":60320},{"t":"2024-08-22T17:00Z","o":60320,"h":60400,"l":60100,"c":60160},{"t":"2024-08-22T18:00Z","o":60160,"h":60350,"l":60120,"c":60300},{"t":"2024-08-22T19:00Z","o":60300,"h":60750,"l":60250,"c":60300},{"t":"2024-08-22T20:00Z","o":60300,"h":60700,"l":60250,"c":60660},{"t":"2024-08-22T21:00Z","o":60670,"h":60800,"l":60450,"c":60520},{"t":"2024-08-22T22:00Z","o":60520,"h":60570,"l":60350,"c":60430},{"t":"2024-08-22T23:00Z","o":60430,"h":60500,"l":60300,"c":60370},
{"t":"2024-08-23T00:00Z","o":60370,"h":60720,"l":60300,"c":60710},{"t":"2024-08-23T01:00Z","o":60710,"h":61000,"l":60650,"c":60770},{"t":"2024-08-23T02:00Z","o":60770,"h":60830,"l":60550,"c":60600},{"t":"2024-08-23T03:00Z","o":60600,"h":60700,"l":60500,"c":60590},{"t":"2024-08-23T04:00Z","o":60590,"h":60720,"l":60500,"c":60690},{"t":"2024-08-23T05:00Z","o":60690,"h":60900,"l":60600,"c":60840},{"t":"2024-08-23T06:00Z","o":60840,"h":61300,"l":60780,"c":61170},{"t":"2024-08-23T07:00Z","o":61170,"h":61350,"l":61000,"c":61160},{"t":"2024-08-23T08:00Z","o":61310,"h":61410,"l":61000,"c":61030},{"t":"2024-08-23T09:00Z","o":61030,"h":61150,"l":60900,"c":61030},{"t":"2024-08-23T10:00Z","o":61030,"h":61100,"l":60700,"c":60980},{"t":"2024-08-23T11:00Z","o":60980,"h":61050,"l":60650,"c":60710},{"t":"2024-08-23T12:00Z","o":60710,"h":61000,"l":60650,"c":60750},{"t":"2024-08-23T13:00Z","o":60750,"h":61130,"l":60700,"c":61130},{"t":"2024-08-23T14:00Z","o":61130,"h":62315,"l":60900,"c":60980},{"t":"2024-08-23T15:00Z","o":60980,"h":61650,"l":60850,"c":61510},{"t":"2024-08-23T16:00Z","o":61510,"h":61850,"l":61450,"c":61710},{"t":"2024-08-23T17:00Z","o":61710,"h":63030,"l":61650,"c":62990},{"t":"2024-08-23T18:00Z","o":62990,"h":63180,"l":62700,"c":63130},{"t":"2024-08-23T19:00Z","o":63130,"h":63750,"l":62650,"c":63610},{"t":"2024-08-23T20:00Z","o":63610,"h":63810,"l":63450,"c":63620},{"t":"2024-08-23T21:00Z","o":63620,"h":64750,"l":63550,"c":64390},{"t":"2024-08-23T22:00Z","o":64390,"h":64940,"l":63900,"c":64040},{"t":"2024-08-23T23:00Z","o":64040,"h":64100,"l":63900,"c":64030},
{"t":"2024-08-24T00:00Z","o":64030,"h":64180,"l":63880,"c":63950},{"t":"2024-08-24T01:00Z","o":63950,"h":64050,"l":63650,"c":63820},{"t":"2024-08-24T02:00Z","o":63820,"h":63950,"l":63700,"c":63810},{"t":"2024-08-24T03:00Z","o":63880,"h":63950,"l":63750,"c":63810},{"t":"2024-08-24T04:00Z","o":63810,"h":63950,"l":63750,"c":63880},{"t":"2024-08-24T05:00Z","o":63880,"h":64100,"l":63830,"c":63990},{"t":"2024-08-24T06:00Z","o":63990,"h":64350,"l":63950,"c":64290},{"t":"2024-08-24T07:00Z","o":64290,"h":64450,"l":64200,"c":64300},{"t":"2024-08-24T08:00Z","o":64390,"h":64480,"l":64250,"c":64320},{"t":"2024-08-24T09:00Z","o":64320,"h":64450,"l":64200,"c":64320},{"t":"2024-08-24T10:00Z","o":64320,"h":64350,"l":64000,"c":64080},{"t":"2024-08-24T11:00Z","o":64080,"h":64120,"l":63800,"c":63880},{"t":"2024-08-24T12:00Z","o":63880,"h":64150,"l":63850,"c":64100},{"t":"2024-08-24T13:00Z","o":64100,"h":64230,"l":64000,"c":64190},{"t":"2024-08-24T14:00Z","o":64190,"h":64300,"l":64050,"c":64180},{"t":"2024-08-24T15:00Z","o":64180,"h":64350,"l":63900,"c":63960},{"t":"2024-08-24T16:00Z","o":63960,"h":64200,"l":63920,"c":64100},{"t":"2024-08-24T17:00Z","o":64100,"h":64430,"l":64020,"c":64270},{"t":"2024-08-24T18:00Z","o":64270,"h":64350,"l":64050,"c":64270},{"t":"2024-08-24T19:00Z","o":64200,"h":64380,"l":64050,"c":64120},{"t":"2024-08-24T20:00Z","o":64120,"h":64200,"l":63900,"c":64100},{"t":"2024-08-24T21:00Z","o":64100,"h":64130,"l":63550,"c":63590},{"t":"2024-08-24T22:00Z","o":63590,"h":63850,"l":63500,"c":63820},{"t":"2024-08-24T23:00Z","o":63820,"h":64150,"l":63700,"c":64130},
{"t":"2024-08-25T00:00Z","o":64130,"h":64500,"l":64080,"c":64130},{"t":"2024-08-25T01:00Z","o":64130,"h":64300,"l":64050,"c":64080},{"t":"2024-08-25T02:00Z","o":64080,"h":64180,"l":64020,"c":64130},{"t":"2024-08-25T03:00Z","o":64130,"h":64200,"l":64030,"c":64120},{"t":"2024-08-25T04:00Z","o":64120,"h":64180,"l":64000,"c":64070},{"t":"2024-08-25T05:00Z","o":64070,"h":64130,"l":63950,"c":63990},{"t":"2024-08-25T06:00Z","o":63990,"h":64020,"l":63800,"c":63900},{"t":"2024-08-25T07:00Z","o":63900,"h":63950,"l":63750,"c":63840},{"t":"2024-08-25T08:00Z","o":63840,"h":63950,"l":63780,"c":63850},{"t":"2024-08-25T09:00Z","o":63850,"h":63920,"l":63800,"c":63850},{"t":"2024-08-25T10:00Z","o":63850,"h":63950,"l":63780,"c":63880},{"t":"2024-08-25T11:00Z","o":63880,"h":63980,"l":63800,"c":63890},{"t":"2024-08-25T12:00Z","o":63890,"h":64080,"l":63800,"c":64050},{"t":"2024-08-25T13:00Z","o":64050,"h":64250,"l":64000,"c":64060},{"t":"2024-08-25T14:00Z","o":64060,"h":64270,"l":64000,"c":64110},{"t":"2024-08-25T15:00Z","o":64110,"h":64280,"l":64050,"c":64120},{"t":"2024-08-25T16:00Z","o":64120,"h":64220,"l":63950,"c":64000},{"t":"2024-08-25T17:00Z","o":64000,"h":64150,"l":63960,"c":64100},{"t":"2024-08-25T18:00Z","o":64100,"h":64170,"l":64050,"c":64120},{"t":"2024-08-25T19:00Z","o":64120,"h":64220,"l":64080,"c":64170},{"t":"2024-08-25T20:00Z","o":64170,"h":64240,"l":64100,"c":64230},{"t":"2024-08-25T21:00Z","o":64230,"h":64600,"l":64150,"c":64470},{"t":"2024-08-25T22:00Z","o":64470,"h":64983,"l":64300,"c":64470},{"t":"2024-08-25T23:00Z","o":64470,"h":64550,"l":64000,"c":64060},
{"t":"2024-08-26T00:00Z","o":64060,"h":64150,"l":63880,"c":63920},{"t":"2024-08-26T01:00Z","o":63920,"h":64100,"l":63870,"c":64050},{"t":"2024-08-26T02:00Z","o":64050,"h":64180,"l":63950,"c":64070},{"t":"2024-08-26T03:00Z","o":64070,"h":64200,"l":63950,"c":64050},{"t":"2024-08-26T04:00Z","o":64050,"h":64100,"l":63900,"c":64000},{"t":"2024-08-26T05:00Z","o":64000,"h":64050,"l":63800,"c":63870},{"t":"2024-08-26T06:00Z","o":63870,"h":63900,"l":63420,"c":63600},{"t":"2024-08-26T07:00Z","o":63600,"h":63750,"l":63500,"c":63600},{"t":"2024-08-26T08:00Z","o":63600,"h":63800,"l":63230,"c":63700},{"t":"2024-08-26T09:00Z","o":63700,"h":63880,"l":63600,"c":63840},{"t":"2024-08-26T10:00Z","o":63840,"h":63950,"l":63700,"c":63840},{"t":"2024-08-26T11:00Z","o":63840,"h":63900,"l":63650,"c":63720},{"t":"2024-08-26T12:00Z","o":63840,"h":63880,"l":63450,"c":63620},{"t":"2024-08-26T13:00Z","o":63620,"h":63750,"l":63300,"c":63700},{"t":"2024-08-26T14:00Z","o":63500,"h":63850,"l":63060,"c":63760},{"t":"2024-08-26T15:00Z","o":63760,"h":63870,"l":63550,"c":63760},{"t":"2024-08-26T16:00Z","o":63760,"h":63870,"l":63200,"c":63690},{"t":"2024-08-26T17:00Z","o":63690,"h":63720,"l":63300,"c":63360},{"t":"2024-08-26T18:00Z","o":63360,"h":63500,"l":63250,"c":63430},{"t":"2024-08-26T19:00Z","o":63410,"h":63480,"l":63150,"c":63310},{"t":"2024-08-26T20:00Z","o":63310,"h":63400,"l":63150,"c":63320},{"t":"2024-08-26T21:00Z","o":63140,"h":63250,"l":62880,"c":62960},{"t":"2024-08-26T22:00Z","o":62960,"h":63100,"l":62800,"c":62900},{"t":"2024-08-26T23:00Z","o":62820,"h":62950,"l":62650,"c":62710},
{"t":"2024-08-27T00:00Z","o":62710,"h":63200,"l":62660,"c":62800},{"t":"2024-08-27T01:00Z","o":62800,"h":63200,"l":62700,"c":62880},{"t":"2024-08-27T02:00Z","o":62880,"h":63000,"l":62780,"c":62940},{"t":"2024-08-27T03:00Z","o":62940,"h":63180,"l":62800,"c":62960},{"t":"2024-08-27T04:00Z","o":62960,"h":63150,"l":62850,"c":63040},{"t":"2024-08-27T05:00Z","o":63040,"h":63180,"l":62850,"c":63100},{"t":"2024-08-27T06:00Z","o":63130,"h":63180,"l":62720,"c":62770},{"t":"2024-08-27T07:00Z","o":62770,"h":62950,"l":62700,"c":62870},{"t":"2024-08-27T08:00Z","o":62870,"h":62950,"l":62650,"c":62770},{"t":"2024-08-27T09:00Z","o":62660,"h":62720,"l":62250,"c":62310},{"t":"2024-08-27T10:00Z","o":62310,"h":62450,"l":62150,"c":62370},{"t":"2024-08-27T11:00Z","o":62370,"h":62500,"l":62250,"c":62400},{"t":"2024-08-27T12:00Z","o":62400,"h":62500,"l":62150,"c":62260},{"t":"2024-08-27T13:00Z","o":62400,"h":62500,"l":62150,"c":62210},{"t":"2024-08-27T14:00Z","o":62210,"h":62300,"l":61750,"c":61820},{"t":"2024-08-27T15:00Z","o":61820,"h":61950,"l":61480,"c":61700},{"t":"2024-08-27T16:00Z","o":61700,"h":61880,"l":61450,"c":61540},{"t":"2024-08-27T17:00Z","o":61540,"h":61950,"l":61500,"c":61910},{"t":"2024-08-27T18:00Z","o":61910,"h":62180,"l":61800,"c":62070},{"t":"2024-08-27T19:00Z","o":62070,"h":62180,"l":61900,"c":62080},{"t":"2024-08-27T20:00Z","o":62080,"h":62130,"l":61800,"c":61840},{"t":"2024-08-27T21:00Z","o":61840,"h":61880,"l":60380,"c":60410},{"t":"2024-08-27T22:00Z","o":60410,"h":60450,"l":58030,"c":59500},{"t":"2024-08-27T23:00Z","o":59500,"h":59750,"l":59300,"c":59400},
{"t":"2024-08-28T00:00Z","o":59400,"h":59700,"l":59000,"c":59070},{"t":"2024-08-28T01:00Z","o":59070,"h":59400,"l":58950,"c":59370},{"t":"2024-08-28T02:00Z","o":59370,"h":59560,"l":59200,"c":59370},{"t":"2024-08-28T03:00Z","o":59370,"h":59650,"l":59250,"c":59620},{"t":"2024-08-28T04:00Z","o":59620,"h":59680,"l":59250,"c":59300},{"t":"2024-08-28T05:00Z","o":59300,"h":59350,"l":59150,"c":59280},{"t":"2024-08-28T06:00Z","o":59280,"h":59320,"l":59100,"c":59180},{"t":"2024-08-28T07:00Z","o":59180,"h":59250,"l":58520,"c":58580},{"t":"2024-08-28T08:00Z","o":58580,"h":59250,"l":58500,"c":59210},{"t":"2024-08-28T09:00Z","o":59210,"h":60250,"l":59150,"c":60200},{"t":"2024-08-28T10:00Z","o":60200,"h":60250,"l":59700,"c":59740},{"t":"2024-08-28T11:00Z","o":59740,"h":60000,"l":59600,"c":59750},{"t":"2024-08-28T12:00Z","o":59750,"h":60100,"l":59600,"c":59930},{"t":"2024-08-28T13:00Z","o":59930,"h":60000,"l":59250,"c":59320},{"t":"2024-08-28T14:00Z","o":59320,"h":59450,"l":58450,"c":59180},{"t":"2024-08-28T15:00Z","o":59180,"h":59850,"l":58700,"c":58960},{"t":"2024-08-28T16:00Z","o":59180,"h":59300,"l":57850,"c":58620},{"t":"2024-08-28T17:00Z","o":58620,"h":59500,"l":58550,"c":59470},{"t":"2024-08-28T18:00Z","o":59470,"h":59830,"l":58850,"c":58910},{"t":"2024-08-28T19:00Z","o":58910,"h":59200,"l":58700,"c":59000},{"t":"2024-08-28T20:00Z","o":59000,"h":59250,"l":58800,"c":59200},{"t":"2024-08-28T21:00Z","o":59320,"h":59350,"l":58950,"c":59090},{"t":"2024-08-28T22:00Z","o":59090,"h":59260,"l":58950,"c":59200},{"t":"2024-08-28T23:00Z","o":59200,"h":59350,"l":59100,"c":59190},
{"t":"2024-08-29T00:00Z","o":59190,"h":59270,"l":58950,"c":59020},{"t":"2024-08-29T01:00Z","o":59020,"h":59200,"l":58900,"c":59020},{"t":"2024-08-29T02:00Z","o":59020,"h":59150,"l":58900,"c":59120},{"t":"2024-08-29T03:00Z","o":59120,"h":59300,"l":59050,"c":59180},{"t":"2024-08-29T04:00Z","o":59180,"h":59250,"l":59130,"c":59190},{"t":"2024-08-29T05:00Z","o":59190,"h":59450,"l":59150,"c":59420},{"t":"2024-08-29T06:00Z","o":59420,"h":59600,"l":59350,"c":59540},{"t":"2024-08-29T07:00Z","o":59550,"h":59900,"l":59450,"c":59560},{"t":"2024-08-29T08:00Z","o":59560,"h":59800,"l":59520,"c":59580},{"t":"2024-08-29T09:00Z","o":59580,"h":59780,"l":59500,"c":59530},{"t":"2024-08-29T10:00Z","o":59530,"h":59950,"l":59500,"c":59900},{"t":"2024-08-29T11:00Z","o":59900,"h":60470,"l":59880,"c":60000},{"t":"2024-08-29T12:00Z","o":60000,"h":60500,"l":59950,"c":60300},{"t":"2024-08-29T13:00Z","o":60300,"h":60850,"l":60200,"c":60800},{"t":"2024-08-29T14:00Z","o":60800,"h":61150,"l":60600,"c":60800},{"t":"2024-08-29T15:00Z","o":60800,"h":60950,"l":60550,"c":60760},{"t":"2024-08-29T16:00Z","o":60760,"h":60920,"l":60200,"c":60280},{"t":"2024-08-29T17:00Z","o":60520,"h":60560,"l":59100,"c":59140},{"t":"2024-08-29T18:00Z","o":59140,"h":59320,"l":58950,"c":59140},{"t":"2024-08-29T19:00Z","o":59140,"h":59500,"l":59050,"c":59240},{"t":"2024-08-29T20:00Z","o":59240,"h":59550,"l":59150,"c":59510},{"t":"2024-08-29T21:00Z","o":59510,"h":59600,"l":59250,"c":59510},{"t":"2024-08-29T22:00Z","o":59340,"h":59400,"l":58700,"c":59340},{"t":"2024-08-29T23:00Z","o":59340,"h":59450,"l":59130,"c":59190},
{"t":"2024-08-30T00:00Z","o":59190,"h":59280,"l":59000,"c":59210},{"t":"2024-08-30T01:00Z","o":59210,"h":59280,"l":59050,"c":59210},{"t":"2024-08-30T02:00Z","o":59200,"h":59300,"l":59000,"c":59210},{"t":"2024-08-30T03:00Z","o":59210,"h":59250,"l":58850,"c":59020},{"t":"2024-08-30T04:00Z","o":59020,"h":59100,"l":58800,"c":59000},{"t":"2024-08-30T05:00Z","o":59000,"h":59050,"l":58700,"c":58760},{"t":"2024-08-30T06:00Z","o":58760,"h":59400,"l":58700,"c":59350},{"t":"2024-08-30T07:00Z","o":59350,"h":59650,"l":59250,"c":59570},{"t":"2024-08-30T08:00Z","o":59570,"h":59700,"l":59450,"c":59570},{"t":"2024-08-30T09:00Z","o":59570,"h":59750,"l":59400,"c":59560},{"t":"2024-08-30T10:00Z","o":59560,"h":59930,"l":59420,"c":59570},{"t":"2024-08-30T11:00Z","o":59530,"h":59630,"l":59250,"c":59370},{"t":"2024-08-30T12:00Z","o":59370,"h":59450,"l":59200,"c":59410},{"t":"2024-08-30T13:00Z","o":59630,"h":59820,"l":58450,"c":58460},{"t":"2024-08-30T14:00Z","o":58460,"h":58650,"l":58000,"c":58080},{"t":"2024-08-30T15:00Z","o":58080,"h":58600,"l":57690,"c":58150},{"t":"2024-08-30T16:00Z","o":58150,"h":58550,"l":58100,"c":58530},{"t":"2024-08-30T17:00Z","o":58530,"h":59100,"l":58500,"c":59050},{"t":"2024-08-30T18:00Z","o":59050,"h":59380,"l":59000,"c":59350},{"t":"2024-08-30T19:00Z","o":59350,"h":59400,"l":58620,"c":58670},{"t":"2024-08-30T20:00Z","o":58670,"h":59100,"l":58620,"c":59050},{"t":"2024-08-30T21:00Z","o":59050,"h":59250,"l":58950,"c":59050},{"t":"2024-08-30T22:00Z","o":59050,"h":59300,"l":59000,"c":59240},{"t":"2024-08-30T23:00Z","o":59240,"h":59330,"l":59050,"c":59100},
{"t":"2024-08-31T00:00Z","o":59100,"h":59230,"l":59050,"c":59170},{"t":"2024-08-31T01:00Z","o":59170,"h":59450,"l":59130,"c":59280},{"t":"2024-08-31T02:00Z","o":59280,"h":59350,"l":59100,"c":59180},{"t":"2024-08-31T03:00Z","o":59180,"h":59280,"l":59130,"c":59240},{"t":"2024-08-31T04:00Z","o":59340,"h":59360,"l":59130,"c":59180},{"t":"2024-08-31T05:00Z","o":59180,"h":59220,"l":59050,"c":59130},{"t":"2024-08-31T06:00Z","o":59130,"h":59180,"l":58980,"c":59050},{"t":"2024-08-31T07:00Z","o":59050,"h":59100,"l":58900,"c":58980},{"t":"2024-08-31T08:00Z","o":58980,"h":59000,"l":58800,"c":58950},{"t":"2024-08-31T09:00Z","o":58950,"h":58970,"l":58830,"c":58880},{"t":"2024-08-31T10:00Z","o":58880,"h":59050,"l":58830,"c":59030},{"t":"2024-08-31T11:00Z","o":59030,"h":59230,"l":59000,"c":59180},{"t":"2024-08-31T12:00Z","o":59180,"h":59280,"l":59050,"c":59180},{"t":"2024-08-31T13:00Z","o":59180,"h":59300,"l":58900,"c":58940},{"t":"2024-08-31T14:00Z","o":58940,"h":59050,"l":58900,"c":59000},{"t":"2024-08-31T15:00Z","o":59000,"h":59100,"l":58880,"c":59000},{"t":"2024-08-31T16:00Z","o":59000,"h":59120,"l":58920,"c":58990},{"t":"2024-08-31T17:00Z","o":58990,"h":59080,"l":58850,"c":58990},{"t":"2024-08-31T18:00Z","o":58990,"h":59030,"l":58870,"c":58910},{"t":"2024-08-31T19:00Z","o":58910,"h":58950,"l":58700,"c":58830},{"t":"2024-08-31T20:00Z","o":58830,"h":59000,"l":58780,"c":58950},{"t":"2024-08-31T21:00Z","o":58950,"h":59120,"l":58900,"c":59050},{"t":"2024-08-31T22:00Z","o":59050,"h":59130,"l":58950,"c":59010},{"t":"2024-08-31T23:00Z","o":59010,"h":59080,"l":58850,"c":58900},
{"t":"2024-09-01T00:00Z","o":58900,"h":58950,"l":58780,"c":58830},{"t":"2024-09-01T01:00Z","o":58830,"h":58880,"l":58720,"c":58800},{"t":"2024-09-01T02:00Z","o":58800,"h":58830,"l":58400,"c":58540},{"t":"2024-09-01T03:00Z","o":58540,"h":58600,"l":58350,"c":58410},{"t":"2024-09-01T04:00Z","o":58410,"h":58500,"l":58300,"c":58400},{"t":"2024-09-01T05:00Z","o":58400,"h":58450,"l":57780,"c":57980},{"t":"2024-09-01T06:00Z","o":57980,"h":58200,"l":57950,"c":58100},{"t":"2024-09-01T07:00Z","o":58470,"h":58520,"l":58100,"c":58200},{"t":"2024-09-01T08:00Z","o":58200,"h":58300,"l":58050,"c":58200},{"t":"2024-09-01T09:00Z","o":58200,"h":58250,"l":57780,"c":57920},{"t":"2024-09-01T10:00Z","o":57920,"h":58100,"l":57750,"c":57950},{"t":"2024-09-01T11:00Z","o":57950,"h":58250,"l":57900,"c":58230},{"t":"2024-09-01T12:00Z","o":58230,"h":58300,"l":57950,"c":58000},{"t":"2024-09-01T13:00Z","o":58000,"h":58250,"l":57850,"c":58160},{"t":"2024-09-01T14:00Z","o":58160,"h":58200,"l":57260,"c":57850},{"t":"2024-09-01T15:00Z","o":57850,"h":58200,"l":57700,"c":58150},{"t":"2024-09-01T16:00Z","o":58150,"h":58300,"l":57900,"c":58120},{"t":"2024-09-01T17:00Z","o":58120,"h":58300,"l":58000,"c":58190},{"t":"2024-09-01T18:00Z","o":58190,"h":58780,"l":58150,"c":58530},{"t":"2024-09-01T19:00Z","o":58530,"h":58600,"l":58300,"c":58420},{"t":"2024-09-01T20:00Z","o":58420,"h":58620,"l":58250,"c":58520},{"t":"2024-09-01T21:00Z","o":58520,"h":58600,"l":58280,"c":58330},{"t":"2024-09-01T22:00Z","o":58330,"h":58380,"l":57280,"c":57300},{"t":"2024-09-01T23:00Z","o":57300,"h":57500,"l":57250,"c":57300},
{"t":"2024-09-02T00:00Z","o":57300,"h":57480,"l":57220,"c":57430},{"t":"2024-09-02T01:00Z","o":57430,"h":57550,"l":57280,"c":57460},{"t":"2024-09-02T02:00Z","o":57460,"h":57720,"l":57400,"c":57690},{"t":"2024-09-02T03:00Z","o":57690,"h":57780,"l":57600,"c":57730},{"t":"2024-09-02T04:00Z","o":57730,"h":57975,"l":57400,"c":57440},{"t":"2024-09-02T05:00Z","o":57440,"h":57850,"l":57420,"c":57770},{"t":"2024-09-02T06:00Z","o":57770,"h":57950,"l":57650,"c":57680},{"t":"2024-09-02T07:00Z","o":57688,"h":57792,"l":57612,"c":57612}
],"bands":[{"a":"2024-07-28T00:00Z","b":"2024-09-09T01:00Z","y1":65354,"y2":65181,"k":"blue"},{"a":"2024-07-28T00:00Z","b":"2024-09-09T01:00Z","y1":61913,"y2":61709,"k":"blue"},{"a":"2024-07-28T00:00Z","b":"2024-09-09T01:00Z","y1":60259,"y2":60118,"k":"blue2"},{"a":"2024-08-12T22:53Z","b":"2024-09-09T01:00Z","y1":59824,"y2":59620,"k":"red"},{"a":"2024-07-28T00:00Z","b":"2024-09-09T01:00Z","y1":58410,"y2":58217,"k":"blue"},{"a":"2024-07-28T00:00Z","b":"2024-09-09T01:00Z","y1":56047,"y2":55827,"k":"blue2"},{"a":"2024-08-04T22:20Z","b":"2024-09-09T01:00Z","y1":54906,"y2":54697,"k":"orange"},{"a":"2024-07-28T00:00Z","b":"2024-09-09T01:00Z","y1":50743,"y2":50518,"k":"blue"}],"levels":[{"a":"2024-08-08T08:00Z","b":"2024-09-09T01:00Z","p":62760.36,"k":"g"},{"a":"2024-07-28T00:00Z","b":"2024-09-09T01:00Z","p":60785.42,"k":"b"},{"a":"2024-07-28T00:00Z","b":"2024-09-09T01:00Z","p":57612,"k":"last"},{"a":"2024-08-04T13:00Z","b":"2024-09-09T01:00Z","p":55895.29,"k":"gd"},{"a":"2024-08-05T04:30Z","b":"2024-09-09T01:00Z","p":49014.13,"k":"g"},{"a":"2024-07-28T00:00Z","b":"2024-09-09T01:00Z","p":48972.49,"k":"lb"},{"a":"2024-07-28T00:00Z","b":"2024-09-09T01:00Z","p":48729.85,"k":"p"}],"trend":[{"t":"2024-07-28T00:00:00Z","p":63750},{"t":"2024-08-25T13:00:00Z","p":67265}],"notes":[{"t":"2024-09-08T22:41:00Z","p":60938,"s":"RANGE LOW"},{"t":"2024-09-08T22:41:00Z","p":49120,"s":"etf wick"},{"t":"2024-09-08T21:25:00Z","p":48884,"s":"0.382 log W"}],"legend":[{"t":"2024-07-28T08:06:00Z","s":"Bitcoin / TetherUS · 1h · BINANCE","k":"g"},{"t":"2024-07-30T21:40:00Z","s":"O","k":"g"},{"t":"2024-07-31T00:22:00Z","s":"57,688.00","k":"d"},{"t":"2024-07-31T20:20:00Z","s":"H","k":"g"},{"t":"2024-07-31T23:23:00Z","s":"57,792.00","k":"d"},{"t":"2024-08-01T19:40:00Z","s":"L","k":"g"},{"t":"2024-08-01T21:42:00Z","s":"57,612.00","k":"d"},{"t":"2024-08-02T17:40:00Z","s":"C","k":"g"},{"t":"2024-08-02T20:42:00Z","s":"57,612.00","k":"d"},{"t":"2024-08-03T16:19:00Z","s":"−76.00 (−0.13%)","k":"d"}],"tags":[{"a":"2024-09-09T01:26:00Z","b":"2024-09-09T23:45:00Z","y1":62878,"y2":62610,"s":"62,760.36","f":"#4caf50"},{"a":"2024-09-09T01:26:00Z","b":"2024-09-09T23:45:00Z","y1":60890,"y2":60628,"s":"60,785.42","f":"#2962ff"},{"a":"2024-09-09T01:26:00Z","b":"2024-09-09T23:45:00Z","y1":57735,"y2":57237,"s":"","f":"#000000"},{"a":"2024-09-09T01:26:00Z","b":"2024-09-09T23:45:00Z","y1":56015,"y2":55742,"s":"55,895.29","f":"#4caf50"},{"a":"2024-09-09T01:26:00Z","b":"2024-09-09T23:45:00Z","y1":49136,"y2":48868,"s":"49,014.13","f":"#4caf50"},{"a":"2024-09-09T01:26:00Z","b":"2024-09-09T23:45:00Z","y1":48863,"y2":48595,"s":"48,972.49","f":"#2962ff"},{"a":"2024-09-09T01:26:00Z","b":"2024-09-09T23:45:00Z","y1":48590,"y2":48321,"s":"48,729.85","f":"#673ab7"}],"tagtext":[{"t":"2024-09-09T04:05:00Z","p":62744,"s":"62,760.36","c":"#ffffff"},{"t":"2024-09-09T04:05:00Z","p":60759,"s":"60,785.42","c":"#ffffff"},{"t":"2024-09-09T04:05:00Z","p":57618,"s":"57,612.00","c":"#ffffff"},{"t":"2024-09-09T04:05:00Z","p":57380,"s":"38:23","c":"#c5c8d0"},{"t":"2024-09-09T04:05:00Z","p":55880,"s":"55,895.29","c":"#ffffff"},{"t":"2024-09-09T04:05:00Z","p":49002,"s":"49,014.13","c":"#ffffff"},{"t":"2024-09-09T04:05:00Z","p":48729,"s":"48,972.49","c":"#ffffff"},{"t":"2024-09-09T04:05:00Z","p":48456,"s":"48,729.85","c":"#ffffff"}],"arrows":[{"t":"2024-09-09T02:24:00Z","p":62947},{"t":"2024-09-09T02:24:00Z","p":56015}],"logo":[{"t":"2024-07-28T08:47:00Z","p":47100}]},"encoding":{"x":{"field":"t","type":"temporal","scale":{"type":"utc","round":true,"domain":["2024-07-28T05:24:00Z","2024-09-10T01:10:00Z"]},"axis":{"title":"TradingView","titleColor":"#d1d4dc","titleFontSize":13,"titleFontWeight":"normal","titleAlign":"left","titleBaseline":"middle","titleX":23,"titleY":42,"grid":false,"domain":false,"ticks":false,"offset":-23,"labelPadding":3,"labelBaseline":"top","labelColor":"#b2b5be","labelFontSize":12,"labelFlush":false,"labelOverlap":false,"labelBound":false,"values":["2024-07-29T00:00:00Z","2024-07-30T12:00:00Z","2024-08-01T00:00:00Z","2024-08-03T00:00:00Z","2024-08-05T00:00:00Z","2024-08-07T00:00:00Z","2024-08-09T00:00:00Z","2024-08-10T12:00:00Z","2024-08-12T00:00:00Z","2024-08-14T00:00:00Z","2024-08-16T00:00:00Z","2024-08-17T12:00:00Z","2024-08-19T00:00:00Z","2024-08-21T00:00:00Z","2024-08-23T00:00:00Z","2024-08-24T12:00:00Z","2024-08-26T00:00:00Z","2024-08-28T00:00:00Z","2024-08-30T00:00:00Z","2024-09-01T00:00:00Z","2024-09-03T00:00:00Z","2024-09-05T00:00:00Z","2024-09-07T00:00:00Z","2024-09-09T00:00:00Z"],"labelExpr":"utchours(datum.value)==12 ? '12:00' : utcdate(datum.value)==1 ? utcFormat(datum.value,'%b') : utcFormat(datum.value,'%-d')"}},"y":{"type":"quantitative","scale":{"domain":[47400,67265],"nice":false,"zero":false,"round":true},"axis":{"orient":"right","title":null,"grid":false,"domain":false,"ticks":false,"offset":-71,"labelPadding":9,"labelAlign":"left","labelColor":"#b2b5be","labelFontSize":12,"labelFlush":false,"labelOverlap":false,"labelBound":false,"format":",.2f","values":[48000,48500,49000,49500,50000,50500,51000,51500,52000,52500,53000,53500,54000,54500,55000,55500,56000,56500,57000,57500,58000,58500,59000,59500,60000,60500,61000,61500,62000,62500,63000,63500,64000,64500,65000,65500,66000,66500,67000]}}},"layer":[{"data":{"name":"candles"},"mark":{"type":"rule","color":"#000000","strokeWidth":1,"xOffset":0.5,"clip":true},"encoding":{"y":{"field":"l"},"y2":{"field":"h"}}},{"data":{"name":"candles"},"mark":{"type":"bar","width":2,"stroke":"#000000","strokeWidth":1,"xOffset":0.5,"yOffset":0.5,"y2Offset":0.5,"clip":true},"encoding":{"y":{"field":"o"},"y2":{"field":"c"},"fill":{"condition":{"test":"datum.c>=datum.o","value":"#ffffff"},"value":"#000000"}}},{"data":{"name":"bands"},"transform":[{"filter":"datum.k=='blue'"}],"mark":{"type":"rect","color":"#2962ff","opacity":0.27,"clip":true},"encoding":{"x":{"field":"a"},"x2":{"field":"b"},"y":{"field":"y1"},"y2":{"field":"y2"}}},{"data":{"name":"bands"},"transform":[{"filter":"datum.k=='blue2'"}],"mark":{"type":"rect","color":"#2962ff","opacity":0.35,"clip":true},"encoding":{"x":{"field":"a"},"x2":{"field":"b"},"y":{"field":"y1"},"y2":{"field":"y2"}}},{"data":{"name":"bands"},"transform":[{"filter":"datum.k=='red'"}],"mark":{"type":"rect","color":"#f23645","opacity":0.25,"clip":true},"encoding":{"x":{"field":"a"},"x2":{"field":"b"},"y":{"field":"y1"},"y2":{"field":"y2"}}},{"data":{"name":"bands"},"transform":[{"filter":"datum.k=='orange'"}],"mark":{"type":"rect","color":"#f57c00","opacity":0.32,"clip":true},"encoding":{"x":{"field":"a"},"x2":{"field":"b"},"y":{"field":"y1"},"y2":{"field":"y2"}}},{"data":{"name":"levels"},"transform":[{"filter":"datum.k=='g'"}],"mark":{"type":"rule","color":"#4caf50","strokeWidth":2,"clip":true},"encoding":{"x":{"field":"a"},"x2":{"field":"b"},"y":{"field":"p"}}},{"data":{"name":"levels"},"transform":[{"filter":"datum.k=='gd'"}],"mark":{"type":"rule","color":"#4caf50","strokeWidth":2,"strokeDash":[10,12],"clip":true},"encoding":{"x":{"field":"a"},"x2":{"field":"b"},"y":{"field":"p"}}},{"data":{"name":"levels"},"transform":[{"filter":"datum.k=='b'"}],"mark":{"type":"rule","color":"#2962ff","strokeWidth":1,"yOffset":0.5,"clip":true},"encoding":{"x":{"field":"a"},"x2":{"field":"b"},"y":{"field":"p"}}},{"data":{"name":"levels"},"transform":[{"filter":"datum.k=='lb'"}],"mark":{"type":"rule","color":"#8eaffb","strokeWidth":2,"clip":true},"encoding":{"x":{"field":"a"},"x2":{"field":"b"},"y":{"field":"p"}}},{"data":{"name":"levels"},"transform":[{"filter":"datum.k=='p'"}],"mark":{"type":"rule","color":"#673ab7","strokeWidth":2,"clip":true},"encoding":{"x":{"field":"a"},"x2":{"field":"b"},"y":{"field":"p"}}},{"data":{"name":"levels"},"transform":[{"filter":"datum.k=='last'"}],"mark":{"type":"rule","color":"#131722","strokeWidth":1,"strokeDash":[1,2],"yOffset":0.5,"clip":true},"encoding":{"x":{"field":"a"},"x2":{"field":"b"},"y":{"field":"p"}}},{"data":{"name":"trend"},"mark":{"type":"line","color":"#4caf50","strokeWidth":2,"clip":true},"encoding":{"y":{"field":"p"}}},{"data":{"name":"notes"},"mark":{"type":"text","align":"right","baseline":"middle","fontSize":11.5,"color":"#131722"},"encoding":{"y":{"field":"p"},"text":{"field":"s"}}},{"data":{"name":"legend"},"transform":[{"filter":"datum.k=='g' && length(datum.s)>1"}],"mark":{"type":"text","align":"left","baseline":"middle","fontSize":11,"color":"#b2b5be"},"encoding":{"y":{"datum":67029},"text":{"field":"s"}}},{"data":{"name":"legend"},"transform":[{"filter":"datum.k=='g' && length(datum.s)==1"}],"mark":{"type":"text","align":"left","baseline":"middle","fontSize":12,"color":"#b2b5be"},"encoding":{"y":{"datum":67029},"text":{"field":"s"}}},{"data":{"name":"legend"},"transform":[{"filter":"datum.k=='d'"}],"mark":{"type":"text","align":"left","baseline":"middle","fontSize":12,"color":"#434651"},"encoding":{"y":{"datum":67029},"text":{"field":"s"}}},{"data":{"name":"tags"},"mark":{"type":"rect"},"encoding":{"x":{"field":"a"},"x2":{"field":"b"},"y":{"field":"y1"},"y2":{"field":"y2"},"fill":{"field":"f","type":"nominal","scale":null,"legend":null}}},{"data":{"name":"tagtext"},"mark":{"type":"text","align":"left","baseline":"middle","fontSize":12},"encoding":{"y":{"field":"p"},"text":{"field":"s"},"color":{"field":"c","type":"nominal","scale":null,"legend":null}}},{"data":{"name":"arrows"},"mark":{"type":"point","shape":"triangle-right","filled":true,"size":60,"color":"#131722","opacity":1},"encoding":{"y":{"field":"p"}}},{"data":{"name":"logo"},"mark":{"type":"point","shape":"M-1,-.47H-.3V.47H-.62V-.08H-1ZM-.2,-.47H.12V-.15H-.2ZM.45,-.47H1L.55,.47H.08Z","filled":true,"size":400,"color":"#d1d4dc","opacity":1,"clip":false},"encoding":{"y":{"field":"p"}}}]}
